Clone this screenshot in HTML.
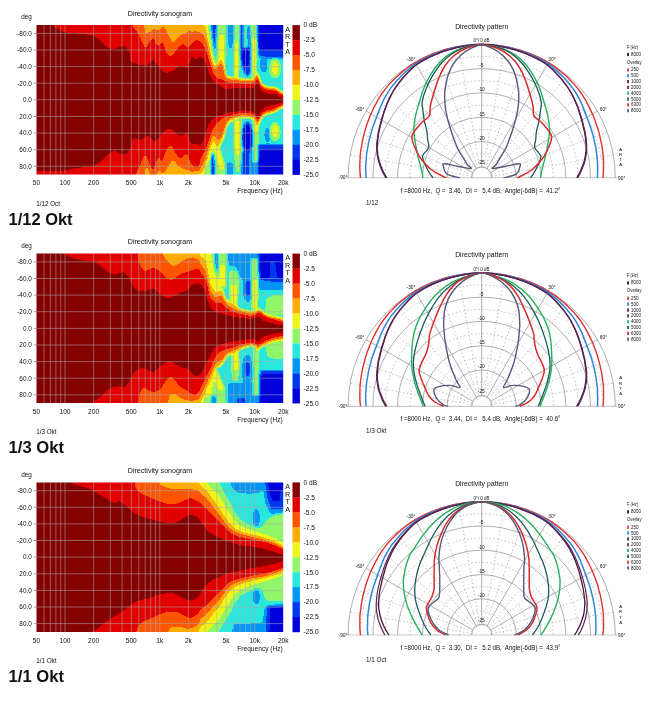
<!DOCTYPE html>
<html><head><meta charset="utf-8"><title>Directivity</title>
<style>html,body{margin:0;padding:0;background:#fff}svg{display:block}text{font-family:'Liberation Sans', sans-serif;fill:#111}</style></head><body>
<svg width="656" height="707" viewBox="0 0 656 707">
<rect width="656" height="707" fill="#fff"/>
<defs>
<filter id="jet" x="0" y="0" width="100%" height="100%" filterUnits="objectBoundingBox" color-interpolation-filters="sRGB"><feGaussianBlur stdDeviation="0.9"/><feComponentTransfer><feFuncR type="discrete" tableValues="0.000 0.000 0.000 0.157 0.569 0.941 1.000 1.000 0.886 0.522"/><feFuncG type="discrete" tableValues="0.000 0.216 0.588 0.910 0.961 0.961 0.675 0.333 0.000 0.000"/><feFuncB type="discrete" tableValues="0.855 0.933 0.961 0.871 0.412 0.098 0.000 0.000 0.000 0.000"/></feComponentTransfer><feGaussianBlur stdDeviation="0.7"/></filter>
<filter id="soft" x="-5%" y="-5%" width="110%" height="110%"><feGaussianBlur stdDeviation="0.35"/></filter>
<clipPath id="cp0"><rect x="36.5" y="25.1" width="246.7" height="149.5"/></clipPath>
<clipPath id="pp0"><rect x="340" y="37.9" width="290" height="140.4"/></clipPath>
<clipPath id="cp1"><rect x="36.5" y="253.6" width="246.7" height="149.5"/></clipPath>
<clipPath id="pp1"><rect x="340" y="266.4" width="290" height="140.4"/></clipPath>
<clipPath id="cp2"><rect x="36.5" y="482.4" width="246.7" height="149.5"/></clipPath>
<clipPath id="pp2"><rect x="340" y="495.2" width="290" height="140.4"/></clipPath>
</defs>
<g id="panel0">
<g clip-path="url(#cp0)"><g filter="url(#jet)">
<rect x="30.5" y="19.1" width="258.7" height="161.5" fill="#595959"/>
<polygon fill="#8c8c8c" points="20,0.5 205,0.5 205,200.5 20,200.5"/>
<polygon fill="#737373" points="205,0.5 208,0.5 208,200.5 205,200.5"/>
<polygon fill="#737373" points="204,23.5 210.6,23.5 213.1,49.7 216.6,67.8 206,54.7"/>
<polygon fill="#8c8c8c" points="202,23.5 207.5,23.5 211.1,49.7 215.1,68.8 206,52.7"/>
<polygon fill="#262626" points="211.3,23.5 216.6,23.5 216.1,39.6 214.9,51.7 213.6,44.6 211.9,34.6"/>
<polygon fill="#737373" points="217.6,23.5 226.4,23.5 226.4,54.7 225.7,72.8 217.1,72.8 216.6,54.7"/>
<polygon fill="#8c8c8c" points="219.6,34.6 224.1,34.6 224.6,54.7 223.6,71.8 218.1,71.8 218.6,54.7"/>
<polygon fill="#404040" points="227,23.5 234,23.5 233.7,39.6 232.2,48.6 229.2,48.6 227.4,39.6"/>
<polygon fill="#737373" points="234,23.5 239.7,23.5 239.7,54.7 238.7,77.8 233.2,77.8 233.7,54.7"/>
<polygon fill="#8c8c8c" points="235.2,42.6 238.7,42.6 238.7,64.7 237.7,77.8 234.2,77.8 234.7,64.7"/>
<polygon fill="#262626" points="240,23.5 243.5,23.5 243.3,49.7 240.2,49.7"/>
<polygon fill="#262626" points="240.2,48.6 250.3,47.6 251.8,59.7 250.8,72.8 247.3,76.8 244.3,72.8 241.2,62.7"/>
<polygon fill="#0d0d0d" points="249.6,57.7 249.2,61.8 248.2,65.2 246.6,67 244.9,67 243.4,65.2 242.3,61.8 242,57.7 242.3,53.6 243.4,50.2 244.9,48.4 246.6,48.4 248.2,50.2 249.2,53.6"/>
<polygon fill="#737373" points="243.8,26.5 247.3,26.5 247.3,47.6 244.3,47.6"/>
<polygon fill="#262626" points="247.5,26.5 250.3,26.5 250.3,48.6 247.8,48.6"/>
<polygon fill="#737373" points="250.3,23.5 256.8,23.5 257.3,54.7 256.8,74.8 252.3,79.8 250.8,72.8 251.8,54.7"/>
<polygon fill="#8c8c8c" points="252.3,37.6 255.8,37.6 256.3,54.7 255.8,71.8 253.3,77.8 252.8,54.7"/>
<polygon fill="#262626" points="256.9,20.5 285,20.5 285,58 270,58 258.8,56.8"/>
<polygon fill="#0d0d0d" points="257.5,20.5 285,20.5 285,49.9 258.8,50.5"/>
<polygon fill="#404040" points="267.5,64.2 267.1,68 266.1,71.1 264.6,72.8 262.9,72.8 261.4,71.1 260.4,68 260,64.2 260.4,60.5 261.4,57.4 262.9,55.7 264.6,55.7 266.1,57.4 267.1,60.5"/>
<polygon fill="#737373" points="281.2,68.6 280.6,73.1 278.9,76.6 276.4,78.6 273.6,78.6 271.1,76.6 269.4,73.1 268.8,68.6 269.4,64.2 271.1,60.6 273.6,58.6 276.4,58.6 278.9,60.6 280.6,64.2"/>
<polygon fill="#8c8c8c" points="278.6,68.6 278.3,71.6 277.4,74 276,75.3 274.5,75.3 273.1,74 272.2,71.6 271.9,68.6 272.2,65.6 273.1,63.2 274.5,61.9 276,61.9 277.4,63.2 278.3,65.6"/>
<polygon fill="#737373" points="203.8,177.5 207.5,152.5 212.5,133.8 216.2,133.8 226.2,170 226.2,177.5"/>
<polygon fill="#8c8c8c" points="206.9,160 212.5,135 216.2,135 225,168.8 220,170 213.8,147.5 210.6,162.5"/>
<polygon fill="#262626" points="210.6,177.5 211,157.5 212.5,151.2 214.4,157.5 215.2,177.5"/>
<polygon fill="#404040" points="226,177.5 226.5,162.5 232.5,162.5 233.1,177.5"/>
<polygon fill="#737373" points="233.1,120 241.9,119.4 242.5,148.8 240,172.5 236.2,172.5 233.1,148.8"/>
<polygon fill="#8c8c8c" points="234.4,121.2 240.6,120.6 241.2,142.5 240,155 236.2,155 234.4,142.5"/>
<polygon fill="#404040" points="241.9,151.2 256.9,151.2 256.9,177.5 241.9,177.5"/>
<polygon fill="#262626" points="241.9,152.5 249.4,152.5 249.4,177.5 241.9,177.5"/>
<polygon fill="#262626" points="253.8,137.5 253.1,144.6 251.4,150.2 248.9,153.3 246.1,153.3 243.6,150.2 241.9,144.6 241.2,137.5 241.9,130.4 243.6,124.8 246.1,121.7 248.9,121.7 251.4,124.8 253.1,130.4"/>
<polygon fill="#0d0d0d" points="251.6,137.5 251.2,143.2 250.1,147.8 248.4,150.3 246.6,150.3 244.9,147.8 243.8,143.2 243.4,137.5 243.8,131.8 244.9,127.2 246.6,124.7 248.4,124.7 250.1,127.2 251.2,131.8"/>
<polygon fill="#737373" points="252.5,117.5 258.8,117.5 258.8,162.5 253.1,162.5"/>
<polygon fill="#8c8c8c" points="253.5,117.5 258.1,117.5 258.1,132.5 253.8,132.5"/>
<polygon fill="#262626" points="258.1,144.4 285,144.4 285,177.5 257.8,177.5"/>
<polygon fill="#0d0d0d" points="258.8,148.8 285,148.8 285,177.5 258.5,177.5"/>
<polygon fill="#404040" points="270.6,135 270.3,138.3 269.4,140.9 268.2,142.3 266.8,142.3 265.6,140.9 264.7,138.3 264.4,135 264.7,131.7 265.6,129.1 266.8,127.7 268.2,127.7 269.4,129.1 270.3,131.7"/>
<polygon fill="#737373" points="280.6,131.9 280.1,136.2 278.5,139.7 276.3,141.6 273.7,141.6 271.5,139.7 269.9,136.2 269.4,131.9 269.9,127.5 271.5,124.1 273.7,122.1 276.3,122.1 278.5,124.1 280.1,127.5"/>
<polygon fill="#8c8c8c" points="278.2,131.2 278,134.2 277.1,136.6 275.9,138 274.6,138 273.4,136.6 272.5,134.2 272.2,131.2 272.5,128.3 273.4,125.9 274.6,124.5 275.9,124.5 277.1,125.9 278,128.3"/>
<polygon fill="#a6a6a6" points="20,99.8 30,10.5 198,10.5 200,20.5 202.5,23.6 205.4,28.4 207.5,38.1 209.8,47.5 211.9,57.2 213.8,64.4 215.6,64.6 217.8,62.6 220,60.1 221.9,59.7 224.4,66.2 225.6,74 228.8,77.1 232.5,77.5 237.5,78 242.5,78.8 247.5,78.8 252.5,79.2 255,76.5 256.9,71.4 259.4,77.3 261.2,83.2 265,86.1 270,87.2 275,87.5 278.1,89 280.6,91.2 283.2,92.5 290,99.8 283.2,107.5 280,108.8 276.2,111.2 272.5,113.1 266.2,114.4 261.9,117.3 259.4,122.6 257.2,127.9 255.6,120.2 252.5,118.4 243.8,117.8 237.5,118.4 230,121.5 226.2,128 224.4,135.5 221.8,142.5 220,145.6 217.8,147.6 215.6,144.6 213.8,140 211.9,144 209.8,149.8 207.5,158.6 205.4,167.9 202.5,171.9 198,175.5 196,190.5 30,190.5"/>
<polygon fill="#bfbfbf" points="20,99.8 30,10.5 143.5,10.5 144,20.5 144.9,34.2 147.4,33 149.2,30.5 150.8,33 152.4,29.9 154.2,26.8 156.1,31.8 158,28 159.9,31.1 161.8,27.4 163.6,26.1 165.5,29.2 168,34.2 170.5,39.2 173.6,43.6 176.1,39.2 179.2,36.1 183,34.2 186.8,32.4 189.9,30.5 192.4,33 194.9,29.9 198,32.4 199.5,31.5 200,31.9 202.5,34.2 205.4,37.4 207.5,45.7 209.8,55.6 211.9,63.6 213.8,69.4 215.6,69.2 217.8,67 220,63.5 221.9,63.3 224.4,70.2 225.6,77.1 228.8,79.6 232.5,79.6 237.5,80.2 242.5,80.8 247.5,80.8 252.5,81.5 255,79 256.9,74.4 259.4,79.5 261.2,85.3 265,87.8 270,88.8 275,88.9 278.1,90.5 280.6,92.8 283.2,94 290,99.8 283.2,106 280,107.2 276.2,109.5 272.5,111.2 266.2,112.5 261.9,115.4 259.4,120.4 257.2,124.9 255.6,117.8 252.5,115.9 243.8,115.3 237.5,115.9 230,118.4 226.2,123 224.4,129.9 221.8,136.9 220,139.5 217.8,140.3 215.6,137.4 213.8,134.7 211.9,138.4 209.8,143.7 207.5,151.6 205.4,160 202.5,164.4 200,168.8 199.2,172.5 195.5,170 193,172.5 188,170 183,168.8 179.2,166.2 175.5,162.5 173,159.4 170.5,162.5 167.4,167.5 164.9,172.5 161.8,173.8 159.9,170 158,171.2 155.5,178.8 152.4,177.5 149.2,172.5 147.4,166.2 145.5,167.5 144.5,180 144,190.5 30,190.5"/>
<polygon fill="#d9d9d9" points="20,99.8 30,10.5 131,10.5 131.8,20.5 133,28 135.5,30.5 138,33 139.9,36.8 141.8,41.8 144.9,48 147.4,47.4 149.2,41.8 151.8,39.2 153.6,38 155.5,43 158,46.8 160.5,44.2 162.4,41.1 164.2,45.5 166.1,53 169.2,55.5 171.8,56.8 174.2,53.6 176.8,49.2 180.5,45.5 184.2,43.6 186.1,46.8 188,48.6 189.9,45.5 193,42.4 196.8,39.9 199.2,40.8 200,41.8 202.5,44.5 205.4,48.3 207.5,55.2 209.8,62.7 211.9,69.5 213.8,74.8 217.8,78.7 221.9,79.2 225.6,81.5 228.8,83.3 232.5,83.3 237.5,83.3 242.5,83.7 247.5,83.7 252.5,84 255,82.1 256.9,77.4 259.4,81.6 261.2,87.3 265,89.2 270,90.2 275,90.2 278.1,92 280.6,94.2 283.2,95.5 290,99.8 283.2,104.5 280,105.8 276.2,107.8 272.5,109.4 266.2,110.6 261.9,113.4 259.4,118.2 257.2,121.9 255.6,115.3 252.5,113.4 243.8,112.8 237.5,113.4 230,115.3 225,117.2 221.8,118.6 217.8,122.3 213.8,127.6 211.9,131.6 209.8,136.6 207.5,143.4 205.4,150.1 202.5,155 200,160 199.2,167.2 198,166.2 194.2,167.5 190.5,162.5 187.4,153.8 184.2,155 180.5,158.8 176.8,155 174.2,150 171.8,145.6 169.2,146.2 166.1,150 163,160 161.1,162.5 159.2,156.2 156.8,160 153.6,170 151.1,167.5 148,160 145.5,153.8 143,157.5 139.9,165 136.8,171.2 134.9,180 134,190.5 30,190.5"/>
<polygon fill="#f2f2f2" points="20,99.8 30,10.5 52,10.5 53.5,25.5 54.8,28 59.8,28.8 61.6,32 73.5,33 83.5,34 93.5,35.2 97.2,38 101,41.8 106,46.1 111,49 116,48.8 118,47.4 123.6,45.5 129.2,49.9 130.5,61.8 138,64.2 146.8,66.1 149.9,63 153,58 155.5,63 159.2,67.4 161.1,68 164.2,73 168,72.4 174.2,70.5 178,66.1 180.5,64.9 185.5,66.8 188,69.2 189.9,61.8 192.4,54.2 194.9,60.5 198,58 200,55.6 202.5,58 205.4,62.2 207.5,68.2 209.8,74.4 211.9,79.3 213.8,82.3 217.8,84.2 221.9,86.8 225,89.6 228.8,89 232.5,88.3 237.5,88.1 242.5,88.3 247.5,88.1 252.5,88.3 255,87.1 256.9,80.7 258.8,84 260.6,91 265,92.4 270,94.2 275,94 278.1,95.5 280.6,97.2 283.2,98.5 290,99.8 283.2,101.5 280.6,102.5 278.1,103.8 275,104.8 270,105.6 265,107.5 261.2,110.8 259.4,115.4 257.2,118.1 255,112.8 250,110.9 242.5,110.3 237.5,111.5 230,112.2 225,114 217.5,115.7 212.5,118.7 208.8,124.6 205.6,133.7 202.5,142.5 200,147.5 198.6,145.6 195.5,142.5 193,145 190.5,142.5 188,133.8 185.5,132.5 181.8,136.2 178,135 174.2,131.2 170.5,128.8 165.5,130 161.8,133.8 158,138.8 154.2,142.5 151.1,138.8 148,135.6 144.2,137.5 140.5,140.6 135.5,138.1 131.8,140 130.5,147.5 128,152.5 123,155 118,152.5 117.5,152.3 114.4,150.8 108.1,154.6 100.6,162.1 93.1,166.6 75.5,167.9 62.9,170.7 35.2,171.4"/>
</g>
<path d="M44 25.1V174.6M50.4 25.1V174.6M55.9 25.1V174.6M60.7 25.1V174.6M65 25.1V174.6M93.6 25.1V174.6M110.3 25.1V174.6M122.1 25.1V174.6M131.3 25.1V174.6M138.8 25.1V174.6M145.2 25.1V174.6M150.7 25.1V174.6M155.5 25.1V174.6M159.8 25.1V174.6M188.4 25.1V174.6M205.1 25.1V174.6M216.9 25.1V174.6M226.1 25.1V174.6M233.6 25.1V174.6M240 25.1V174.6M245.5 25.1V174.6M250.3 25.1V174.6M254.7 25.1V174.6M36.5 33.4H283.2M36.5 50H283.2M36.5 66.6H283.2M36.5 83.2H283.2M36.5 99.8H283.2M36.5 116.5H283.2M36.5 133.1H283.2M36.5 149.7H283.2M36.5 166.3H283.2" stroke="#acacac" stroke-opacity="0.68" stroke-width="0.8" fill="none"/>
</g>
<path d="M34 33.4H36.5M34 50H36.5M34 66.6H36.5M34 83.2H36.5M34 99.8H36.5M34 116.5H36.5M34 133.1H36.5M34 149.7H36.5M34 166.3H36.5" stroke="#555" stroke-width="0.6" fill="none"/>
<text x="160" y="15.9" font-size="7.3" text-anchor="middle" textLength="64.5" lengthAdjust="spacingAndGlyphs">Directivity sonogram</text>
<text x="21.2" y="19.2" font-size="6.6" textLength="10.6" lengthAdjust="spacingAndGlyphs">deg</text>
<text x="31.8" y="35.7" font-size="6.4" text-anchor="end">-80.0</text>
<text x="31.8" y="52.3" font-size="6.4" text-anchor="end">-60.0</text>
<text x="31.8" y="68.9" font-size="6.4" text-anchor="end">-40.0</text>
<text x="31.8" y="85.5" font-size="6.4" text-anchor="end">-20.0</text>
<text x="31.8" y="102.1" font-size="6.4" text-anchor="end">0.0</text>
<text x="31.8" y="118.8" font-size="6.4" text-anchor="end">20.0</text>
<text x="31.8" y="135.4" font-size="6.4" text-anchor="end">40.0</text>
<text x="31.8" y="152" font-size="6.4" text-anchor="end">60.0</text>
<text x="31.8" y="168.6" font-size="6.4" text-anchor="end">80.0</text>
<text x="36.5" y="185.3" font-size="6.6" text-anchor="middle">50</text>
<text x="65" y="185.3" font-size="6.6" text-anchor="middle">100</text>
<text x="93.6" y="185.3" font-size="6.6" text-anchor="middle">200</text>
<text x="131.3" y="185.3" font-size="6.6" text-anchor="middle">500</text>
<text x="159.8" y="185.3" font-size="6.6" text-anchor="middle">1k</text>
<text x="188.4" y="185.3" font-size="6.6" text-anchor="middle">2k</text>
<text x="226.1" y="185.3" font-size="6.6" text-anchor="middle">5k</text>
<text x="254.7" y="185.3" font-size="6.6" text-anchor="middle">10k</text>
<text x="283.2" y="185.3" font-size="6.6" text-anchor="middle">20k</text>
<text x="282.8" y="193.4" font-size="6.6" text-anchor="end" textLength="45.5" lengthAdjust="spacingAndGlyphs">Frequency (Hz)</text>
<text x="287.6" y="31.6" font-size="7.2" text-anchor="middle">A</text>
<text x="287.6" y="39.2" font-size="7.2" text-anchor="middle">R</text>
<text x="287.6" y="46.8" font-size="7.2" text-anchor="middle">T</text>
<text x="287.6" y="54.4" font-size="7.2" text-anchor="middle">A</text>
<rect x="292.5" y="25.1" width="7.4" height="15.2" fill="rgb(133,0,0)"/>
<text x="303.6" y="27.4" font-size="6.6">0 dB</text>
<rect x="292.5" y="40.1" width="7.4" height="15.2" fill="rgb(226,0,0)"/>
<text x="303.6" y="42.4" font-size="6.6">-2.5</text>
<rect x="292.5" y="55" width="7.4" height="15.2" fill="rgb(255,85,0)"/>
<text x="303.6" y="57.3" font-size="6.6">-5.0</text>
<rect x="292.5" y="70" width="7.4" height="15.2" fill="rgb(255,172,0)"/>
<text x="303.6" y="72.3" font-size="6.6">-7.5</text>
<rect x="292.5" y="84.9" width="7.4" height="15.2" fill="rgb(240,245,25)"/>
<text x="303.6" y="87.2" font-size="6.6">-10.0</text>
<rect x="292.5" y="99.9" width="7.4" height="15.2" fill="rgb(145,245,105)"/>
<text x="303.6" y="102.2" font-size="6.6">-12.5</text>
<rect x="292.5" y="114.9" width="7.4" height="15.2" fill="rgb(40,232,222)"/>
<text x="303.6" y="117.2" font-size="6.6">-15.0</text>
<rect x="292.5" y="129.8" width="7.4" height="15.2" fill="rgb(0,150,245)"/>
<text x="303.6" y="132.1" font-size="6.6">-17.5</text>
<rect x="292.5" y="144.8" width="7.4" height="15.2" fill="rgb(0,55,238)"/>
<text x="303.6" y="147.1" font-size="6.6">-20.0</text>
<rect x="292.5" y="159.7" width="7.4" height="15.2" fill="rgb(0,0,218)"/>
<text x="303.6" y="162" font-size="6.6">-22.5</text>
<text x="303.6" y="177" font-size="6.6">-25.0</text>
<text x="36.2" y="205.9" font-size="6.3">1/12 Oct</text>
<text x="8.6" y="224.6" font-size="15.6" font-weight="bold" textLength="64" lengthAdjust="spacingAndGlyphs">1/12 Okt</text>
<g clip-path="url(#pp0)">
<path d="M360.5 177.9A121.2 121.4 0 0 1 602.9 177.9M385.2 177.9A96.5 97.1 0 0 1 578.2 177.9M410 177.9A71.7 72.8 0 0 1 553.4 177.9M434.7 177.9A47 48.5 0 0 1 528.7 177.9M459.5 177.9A22.2 24.2 0 0 1 503.9 177.9M471.9 176.2L350.1 154.7M472.3 174.5L356.2 132.2M474 171.5L379.4 92M475.3 170.2L395.8 75.6M478.3 168.5L436 52.4M480 168.1L458.5 46.3M483.4 168.1L504.9 46.3M485.1 168.5L527.4 52.4M488.1 170.2L567.6 75.6M489.4 171.5L584 92M491.1 174.5L607.2 132.2M491.5 176.2L613.3 154.7" stroke="#9a9aa8" stroke-width="0.6" stroke-dasharray="1.6 2.2" fill="none"/>
<path d="M348.1 177.9A133.6 133.6 0 0 1 615.3 177.9M372.9 177.9A108.8 109.3 0 0 1 590.5 177.9M397.6 177.9A84.1 85 0 0 1 565.8 177.9M422.4 177.9A59.3 60.7 0 0 1 541 177.9M447.1 177.9A34.6 36.4 0 0 1 516.3 177.9M471.7 177.9A10 11 0 0 1 491.7 177.9M473 172.9L366 111.1M476.7 169.2L414.9 62.2M481.7 167.9L481.7 44.3M486.7 169.2L548.5 62.2M490.4 172.9L597.4 111.1M346.1 177.9H617.3" stroke="#8c8c8c" stroke-width="0.7" fill="none"/>
<path d="M360.5 177.9C360.4 176.8 360.1 173.7 359.9 171.5C359.8 169.4 359.8 167.2 359.8 165.1C359.8 162.9 360 160.8 360.1 158.6C360.2 156.5 360.3 154.3 360.5 152.1C360.8 150 361.3 147.9 361.7 145.7C362 143.6 362.3 141.4 362.8 139.3C363.2 137.1 363.9 135 364.4 132.9C365 130.8 365.6 128.6 366.2 126.5C366.9 124.4 367.6 122.3 368.4 120.2C369.2 118.1 370.1 116.1 371 114C371.9 111.9 372.8 109.8 373.8 107.8C374.8 105.8 375.9 103.8 377 101.8C378.1 99.9 379.2 97.8 380.4 95.9C381.6 94 383 92.1 384.4 90.3C385.7 88.4 387.2 86.6 388.7 84.9C390.2 83.1 391.8 81.5 393.4 79.9C395.1 78.2 396.8 76.7 398.5 75.2C400.2 73.6 402 72.1 403.8 70.6C405.6 69.2 407.5 67.8 409.3 66.5C411.2 65.1 413.1 63.8 415.1 62.6C417.1 61.4 419.2 60.3 421.2 59.2C423.3 58.1 425.4 57.1 427.5 56.1C429.6 55.2 431.8 54.3 433.9 53.4C436.1 52.6 438.3 51.8 440.5 51.1C442.7 50.3 444.9 49.6 447.2 49C449.4 48.4 451.7 47.9 454 47.4C456.2 46.9 458.5 46.4 460.8 46.1C463.1 45.7 465.4 45.4 467.7 45.1C470.1 44.9 472.4 44.7 474.7 44.5C477 44.4 479.4 44.3 481.7 44.3C484 44.3 486.4 44.4 488.7 44.5C491 44.7 493.3 44.8 495.7 45.1C498 45.4 500.3 45.7 502.6 46.1C504.9 46.4 507.2 46.9 509.4 47.4C511.7 47.9 514 48.4 516.2 49.1C518.5 49.7 520.7 50.3 522.9 51.1C525.1 51.8 527.3 52.6 529.5 53.4C531.6 54.3 533.8 55.2 535.9 56.2C538 57.1 540.1 58.1 542.2 59.2C544.3 60.2 546.3 61.4 548.3 62.6C550.2 63.8 552.2 65.1 554.1 66.4C556 67.8 557.8 69.2 559.6 70.7C561.4 72.1 563.2 73.6 564.9 75.1C566.7 76.7 568.3 78.2 570 79.9C571.6 81.5 573.2 83.2 574.7 84.9C576.2 86.6 577.7 88.4 579.1 90.2C580.5 92 581.7 94 582.9 95.9C584.1 97.9 585.4 99.8 586.5 101.8C587.6 103.8 588.5 105.8 589.5 107.9C590.5 109.9 591.5 111.9 592.4 114C593.3 116 594.2 118.1 594.9 120.2C595.7 122.3 596.4 124.4 597.1 126.5C597.8 128.6 598.5 130.7 599.1 132.8C599.6 135 600 137.2 600.5 139.3C601 141.4 601.5 143.5 601.9 145.7C602.3 147.8 602.5 150 602.7 152.2C603 154.3 603.3 156.5 603.4 158.6C603.6 160.8 603.6 162.9 603.6 165.1C603.6 167.2 603.5 169.4 603.4 171.5C603.3 173.7 603.1 176.8 603 177.9" fill="none" stroke="#e03030" stroke-width="1.4" stroke-linejoin="round"/>
<path d="M366.1 177.9C366.1 176.9 365.8 173.9 365.8 171.8C365.7 169.8 365.7 167.8 365.8 165.7C365.8 163.7 366 161.6 366.2 159.6C366.3 157.6 366.4 155.5 366.7 153.5C366.9 151.4 367.4 149.4 367.8 147.4C368.2 145.3 368.4 143.3 368.9 141.2C369.3 139.2 369.9 137.2 370.5 135.2C371 133.2 371.6 131.1 372.2 129.1C372.8 127.1 373.5 125.2 374.3 123.2C375 121.2 375.8 119.2 376.6 117.2C377.3 115.2 378 113.1 378.8 111.1C379.6 109 380.5 107 381.4 105C382.3 103 383.1 100.9 384.1 98.9C385.1 96.9 386.3 95 387.5 93.1C388.7 91.1 389.9 89.3 391.2 87.4C392.6 85.6 394 83.9 395.5 82.2C397 80.5 398.6 78.8 400.1 77.2C401.7 75.5 403.3 73.9 405 72.3C406.7 70.8 408.4 69.3 410.2 67.8C412 66.4 413.8 64.9 415.7 63.6C417.6 62.3 419.6 61.2 421.7 60.1C423.7 59 425.8 57.9 427.8 56.9C429.9 55.9 432.1 55 434.2 54.1C436.3 53.3 438.5 52.5 440.7 51.7C442.9 50.9 445.1 50.2 447.3 49.6C449.5 48.9 451.8 48.3 454 47.8C456.3 47.3 458.6 46.8 460.9 46.4C463.2 46 465.5 45.6 467.8 45.3C470.1 45 472.4 44.8 474.7 44.6C477 44.5 479.4 44.4 481.7 44.4C484 44.4 486.4 44.5 488.7 44.6C491 44.8 493.3 45 495.6 45.3C497.9 45.6 500.2 46 502.5 46.4C504.8 46.8 507.1 47.3 509.4 47.8C511.6 48.3 513.9 48.9 516.1 49.6C518.3 50.2 520.5 50.9 522.7 51.7C524.9 52.4 527.1 53.3 529.2 54.1C531.3 55 533.5 56 535.6 56.9C537.6 57.9 539.7 58.9 541.8 60C543.8 61.1 545.7 62.4 547.7 63.7C549.6 65 551.4 66.3 553.2 67.8C555 69.2 556.7 70.8 558.4 72.4C560 73.9 561.7 75.5 563.3 77.1C564.9 78.8 566.4 80.5 567.9 82.2C569.4 83.9 570.8 85.7 572.1 87.5C573.5 89.3 574.8 91.1 576 93C577.2 94.9 578.2 97 579.2 98.9C580.2 100.9 581.2 102.9 582.1 104.9C583 107 583.7 109.1 584.5 111.1C585.3 113.2 586.1 115.2 586.9 117.2C587.6 119.2 588.4 121.2 589.1 123.2C589.8 125.2 590.5 127.2 591.2 129.2C591.8 131.2 592.5 133.1 593 135.2C593.6 137.2 593.9 139.3 594.4 141.3C594.8 143.3 595.4 145.3 595.8 147.3C596.1 149.4 596.3 151.4 596.6 153.5C596.8 155.5 597.2 157.5 597.3 159.6C597.5 161.6 597.6 163.7 597.6 165.7C597.7 167.8 597.6 169.8 597.6 171.8C597.6 173.9 597.4 176.9 597.4 177.9" fill="none" stroke="#2f86d8" stroke-width="1.5" stroke-linejoin="round"/>
<path d="M386.8 177.9C386.3 177 384.7 174.5 383.8 172.8C382.9 171 382.2 169.2 381.5 167.4C380.7 165.5 380 163.6 379.4 161.7C378.8 159.8 378.4 157.8 378 155.9C377.7 153.9 377.5 151.9 377.4 150C377.3 148 377.2 146 377.3 144C377.4 142 377.7 140.1 378 138.1C378.3 136.1 378.5 134.1 378.8 132.1C379.2 130.1 379.8 128.2 380.2 126.2C380.7 124.2 381.2 122.2 381.8 120.2C382.3 118.2 382.9 116.2 383.5 114.1C384.1 112.1 384.8 110.1 385.6 108.1C386.3 106 387 104 387.9 102C388.8 99.9 389.8 98 390.8 96C391.8 94.1 392.8 92 393.9 90.1C395.1 88.2 396.4 86.4 397.7 84.6C399 82.8 400.4 81 401.9 79.3C403.3 77.6 404.8 75.8 406.3 74.2C407.9 72.5 409.5 70.8 411.2 69.3C412.8 67.7 414.5 66.1 416.4 64.8C418.2 63.4 420.2 62.2 422.2 61.1C424.1 59.9 426.2 58.8 428.2 57.8C430.3 56.8 432.4 55.9 434.5 55C436.6 54.1 438.8 53.2 440.9 52.4C443.1 51.6 445.3 50.8 447.5 50.2C449.7 49.5 451.9 48.9 454.2 48.3C456.4 47.7 458.7 47.2 460.9 46.7C463.2 46.3 465.5 45.9 467.8 45.6C470.1 45.2 472.4 44.9 474.7 44.8C477 44.6 479.4 44.4 481.7 44.4C484 44.4 486.4 44.6 488.7 44.8C491 44.9 493.3 45.2 495.6 45.6C497.9 45.9 500.2 46.3 502.5 46.8C504.7 47.2 507 47.7 509.3 48.3C511.5 48.8 513.7 49.5 515.9 50.2C518.1 50.9 520.3 51.6 522.5 52.4C524.6 53.2 526.8 54.1 528.9 55C531 55.9 533.1 56.8 535.2 57.8C537.2 58.8 539.3 59.9 541.2 61C543.2 62.2 545.2 63.4 547 64.8C548.8 66.2 550.6 67.7 552.3 69.2C553.9 70.8 555.5 72.5 557 74.2C558.6 75.9 560.1 77.5 561.6 79.3C563 81 564.4 82.8 565.7 84.6C567 86.5 568.3 88.3 569.5 90.1C570.6 92 571.7 94 572.7 96C573.7 98 574.6 100 575.4 102C576.3 104 577.2 106 577.9 108C578.6 110 579.2 112.1 579.8 114.2C580.5 116.2 581.1 118.2 581.7 120.2C582.2 122.2 582.7 124.2 583.1 126.2C583.6 128.2 584.1 130.1 584.5 132.1C584.9 134.1 585.2 136.1 585.5 138.1C585.7 140.1 585.9 142 586 144C586.1 146 586.2 147.9 586.1 149.9C586 151.9 585.6 153.9 585.3 155.9C584.9 157.8 584.6 159.8 584.1 161.7C583.5 163.6 582.7 165.5 581.9 167.4C581.2 169.2 580.5 171 579.6 172.8C578.7 174.5 577.2 177 576.7 177.9" fill="none" stroke="#4a1540" stroke-width="1.3" stroke-linejoin="round"/>
<path d="M385.8 177.9C385.4 177 383.8 174.5 382.9 172.7C382 171 381.3 169.1 380.6 167.3C379.9 165.4 379.2 163.5 378.7 161.6C378.1 159.7 377.7 157.7 377.3 155.7C377 153.8 376.9 151.8 376.8 149.8C376.7 147.8 376.6 145.8 376.7 143.8C376.8 141.8 377.2 139.9 377.5 137.9C377.8 135.9 378 133.9 378.4 131.9C378.7 129.9 379.3 128 379.8 126C380.3 124 380.8 122 381.4 120C381.9 118 382.5 115.9 383.2 113.9C383.8 111.9 384.5 109.9 385.3 107.8C386 105.8 386.8 103.8 387.7 101.7C388.5 99.7 389.5 97.8 390.6 95.8C391.6 93.9 392.6 91.9 393.8 90C394.9 88.1 396.3 86.3 397.6 84.5C398.9 82.7 400.3 80.9 401.7 79.2C403.2 77.4 404.7 75.7 406.3 74.1C407.8 72.4 409.4 70.8 411.1 69.2C412.8 67.6 414.5 66.1 416.3 64.7C418.2 63.3 420.2 62.2 422.1 61C424.1 59.9 426.2 58.8 428.2 57.8C430.3 56.8 432.4 55.8 434.5 54.9C436.6 54 438.7 53.1 440.9 52.3C443.1 51.5 445.3 50.8 447.5 50.1C449.7 49.5 451.9 48.8 454.1 48.3C456.4 47.7 458.6 47.2 460.9 46.7C463.2 46.3 465.5 45.9 467.8 45.6C470.1 45.2 472.4 44.9 474.7 44.7C477 44.6 479.4 44.4 481.7 44.4C484 44.4 486.4 44.6 488.7 44.7C491 44.9 493.3 45.2 495.6 45.6C497.9 45.9 500.2 46.3 502.5 46.7C504.7 47.2 507 47.7 509.3 48.2C511.5 48.8 513.7 49.5 515.9 50.1C518.1 50.8 520.3 51.5 522.5 52.3C524.7 53.1 526.8 54 528.9 54.9C531 55.8 533.1 56.8 535.2 57.8C537.2 58.8 539.3 59.8 541.3 61C543.2 62.1 545.2 63.4 547 64.7C548.9 66.1 550.6 67.6 552.3 69.1C554 70.7 555.6 72.4 557.1 74.1C558.7 75.8 560.2 77.4 561.7 79.1C563.1 80.9 564.5 82.7 565.8 84.5C567.1 86.3 568.4 88.1 569.6 90C570.8 91.9 571.9 93.8 572.9 95.8C573.9 97.8 574.8 99.8 575.7 101.8C576.6 103.8 577.4 105.8 578.2 107.8C578.9 109.8 579.5 111.9 580.2 113.9C580.8 116 581.5 117.9 582.1 119.9C582.6 122 583.1 124 583.6 126C584.1 128 584.6 129.9 585 131.9C585.4 133.9 585.7 135.9 586 137.9C586.2 139.9 586.5 141.8 586.6 143.8C586.7 145.8 586.8 147.8 586.7 149.8C586.6 151.7 586.3 153.8 586 155.7C585.6 157.7 585.3 159.6 584.8 161.6C584.3 163.5 583.5 165.4 582.7 167.3C582 169.1 581.3 171 580.5 172.7C579.6 174.5 578.1 177 577.6 177.9" fill="none" stroke="#5b2352" stroke-width="1.2" stroke-linejoin="round"/>
<path d="M422.9 177.9C422.8 176.8 422.4 174 421.8 171.2C421.1 168.3 420.1 164.4 419.2 161.1C418.4 157.7 417.4 154.3 416.8 151C416.1 147.6 415.5 144 415.1 141C414.6 137.9 414.1 135.4 413.9 132.6C413.8 129.8 413.9 127.2 414.2 124.2C414.6 121.1 415.2 117.5 415.9 114.1C416.7 110.6 417.7 107.9 418.9 103.7C420.2 99.4 421.8 93.2 423.6 88.7C425.4 84.1 427.2 80.3 429.8 76.1C432.2 71.9 435.4 67 438.6 63.5C441.7 59.9 444.9 57.2 448.6 54.7C452.4 52.1 455.8 50 461.2 48.3C466.7 46.7 474.6 44.7 481.4 44.7C488.3 44.7 496.6 46.7 502.1 48.3C507.7 50 511 52.1 514.8 54.7C518.5 57.2 521.7 59.9 524.8 63.5C528 67 531.2 71.9 533.7 76.1C536.2 80.3 538 84.1 539.8 88.7C541.6 93.2 543.2 99.4 544.5 103.7C545.7 107.9 546.7 110.6 547.5 114.1C548.2 117.5 548.8 121.1 549.2 124.2C549.5 127.2 549.6 129.8 549.5 132.6C549.3 135.4 548.8 137.9 548.3 141C547.9 144 547.4 147.6 546.7 151C546 154.3 545 157.7 544.2 161.1C543.3 164.4 542.3 168.3 541.7 171.2C541 174 540.7 176.8 540.5 177.9" fill="none" stroke="#27b060" stroke-width="1.4" stroke-linejoin="round"/>
<path d="M433.1 177.9C432.4 177 430.7 175 429.3 172.8C428 170.5 426.3 167.2 425.1 164.5C424 161.7 422.1 158.9 422.6 156.1C423.2 153.2 427.7 150.5 428.6 147.7C429.4 144.8 427.9 142.1 427.6 139.2C427.4 136.4 427.4 133.9 426.8 130.8C426.3 127.8 425 124.1 424.3 120.8C423.7 117.4 423.3 113.9 422.9 110.8C422.6 107.6 421.7 105.3 422.2 101.7C422.8 98 424.4 92.9 426.1 88.7C427.7 84.4 429.8 80.3 432.3 76.1C434.9 71.9 438.1 67 441.1 63.5C444.2 59.9 447.1 57.2 450.6 54.7C454.2 52.1 457.3 50 462.4 48.3C467.6 46.7 475 44.7 481.4 44.7C487.9 44.7 495.7 46.7 500.9 48.3C506.2 50 509.2 52.1 512.8 54.7C516.3 57.2 519.2 59.9 522.2 63.5C525.3 67 528.5 71.9 531 76.1C533.6 80.3 535.7 84.4 537.3 88.7C539 92.9 540.6 98 541.2 101.7C541.7 105.3 540.8 107.6 540.5 110.8C540.1 113.9 539.7 117.4 539 120.8C538.4 124.1 537.1 127.8 536.5 130.8C536 133.9 536 136.4 535.8 139.2C535.5 142.1 534 144.8 534.8 147.7C535.7 150.5 540.2 153.2 540.8 156.1C541.3 158.9 539.4 161.7 538.2 164.5C537.1 167.2 535.4 170.5 534 172.8C532.7 175 531 177 530.3 177.9" fill="none" stroke="#1e5a55" stroke-width="1.3" stroke-linejoin="round"/>
<path d="M446.1 177.9C445 177.3 442 175.9 439.4 174.5C436.9 173 433.6 171.4 431.1 169.5C428.5 167.5 426.3 165 424.3 162.8C422.4 160.5 420.9 158.9 419.2 156.1C417.6 153.2 415.5 149.2 414.2 146C413 142.7 411.5 139.6 411.8 136.8C412 133.9 414.1 131.7 415.9 129.2C417.8 126.6 420.4 123.9 422.6 121.7C424.9 119.5 428.2 118.1 429.4 116C430.7 113.8 429.9 110.7 430.1 108.7C430.4 106.6 430.3 106.2 430.8 103.7C431.4 101.2 432.3 97.8 433.6 93.7C434.8 89.5 436.7 83.2 438.6 78.6C440.4 73.9 442.3 69.7 444.8 66C447.4 62.2 450.1 58.9 453.6 56C457.2 53 461.6 50.2 466.2 48.3C470.9 46.5 476.3 44.7 481.4 44.7C486.6 44.7 492.4 46.5 497.1 48.3C501.9 50.2 506.2 53 509.8 56C513.3 58.9 516 62.2 518.5 66C521.1 69.7 523 73.9 524.8 78.6C526.7 83.2 528.6 89.5 529.8 93.7C531.1 97.8 532 101.2 532.5 103.7C533.1 106.2 533 106.6 533.2 108.7C533.5 110.7 532.7 113.8 534 116C535.2 118.1 538.5 119.5 540.8 121.7C543 123.9 545.6 126.6 547.5 129.2C549.3 131.7 551.4 133.9 551.7 136.8C551.9 139.6 550.4 142.7 549.2 146C547.9 149.2 545.8 153.2 544.2 156.1C542.5 158.9 541 160.5 539 162.8C537.1 165 534.9 167.5 532.3 169.5C529.8 171.4 526.5 173 524 174.5C521.4 175.9 518.4 177.3 517.2 177.9" fill="none" stroke="#d82a2a" stroke-width="1.5" stroke-linejoin="round"/>
<path d="M459.8 177.9C457.7 177.2 449.4 175.6 446.7 173.8C444 171.9 444 168.6 443.6 166.9C443.1 165.2 441.9 163.9 444.2 163.8C446.5 163.6 453 165.4 457.4 166.2C461.9 166.9 469.3 168.7 470.9 168.5C472.6 168.2 468.6 166.3 467.3 164.5C466.1 162.7 464.7 160.2 463.2 157.7C461.7 155.1 459.7 152.4 458.1 149.3C456.6 146.3 455.2 142.6 453.9 139.2C452.7 135.9 451.7 132.5 450.6 129.2C449.6 125.8 448.5 122.5 447.6 119.2C446.8 115.8 446 112.1 445.6 109.1C445.1 106 444.9 103.7 444.8 100.7C444.6 97.6 444.4 94.8 444.9 90.7C445.5 86.5 446.5 80.2 447.9 75.7C449.4 71.2 451.2 67.2 453.4 63.7C455.7 60.2 458.4 57.2 461.4 54.7C464.4 52.1 468.1 49.8 471.4 48.2C474.8 46.5 478 44.7 481.4 44.7C484.9 44.7 488.5 46.5 491.9 48.2C495.4 49.8 498.9 52.1 501.9 54.7C504.9 57.2 507.7 60.2 509.9 63.7C512.2 67.2 514 71.2 515.5 75.7C516.9 80.2 517.9 86.5 518.5 90.7C519 94.8 518.8 97.6 518.7 100.7C518.6 103.7 518.3 106 517.8 109.1C517.4 112.1 516.6 115.8 515.8 119.2C514.9 122.5 513.8 125.8 512.8 129.2C511.7 132.5 510.7 135.9 509.4 139.2C508.2 142.6 506.8 146.3 505.2 149.3C503.7 152.4 501.7 155.1 500.2 157.7C498.7 160.2 497.3 162.7 496.1 164.5C494.8 166.3 490.8 168.2 492.4 168.5C494.1 168.7 501.5 166.9 505.9 166.2C510.4 165.4 516.9 163.6 519.2 163.8C521.5 163.9 520.3 165.2 519.8 166.9C519.4 168.6 519.4 171.9 516.7 173.8C514 175.6 505.7 177.2 503.6 177.9" fill="none" stroke="#555878" stroke-width="1.4" stroke-linejoin="round"/>
</g>
<text x="481.8" y="28.8" font-size="7.3" text-anchor="middle" textLength="53.3" lengthAdjust="spacingAndGlyphs">Directivity pattern</text>
<text x="481.6" y="42.2" font-size="4.8" text-anchor="middle" textLength="16" lengthAdjust="spacingAndGlyphs">0&#176;/ 0 dB</text>
<text x="481.3" y="67" font-size="4.8" text-anchor="middle">-5</text>
<text x="481.3" y="91.3" font-size="4.8" text-anchor="middle">-10</text>
<text x="481.3" y="115.6" font-size="4.8" text-anchor="middle">-15</text>
<text x="481.3" y="139.9" font-size="4.8" text-anchor="middle">-20</text>
<text x="481.3" y="164.2" font-size="4.8" text-anchor="middle">-25</text>
<text x="411" y="60.6" font-size="4.8" text-anchor="middle">-30&#176;</text>
<text x="552" y="60.6" font-size="4.8" text-anchor="middle">30&#176;</text>
<text x="360" y="110.9" font-size="4.8" text-anchor="middle">-60&#176;</text>
<text x="603.4" y="110.9" font-size="4.8" text-anchor="middle">60&#176;</text>
<text x="343" y="179.2" font-size="4.8" text-anchor="middle">-90&#176;</text>
<text x="621.7" y="179.6" font-size="4.8" text-anchor="middle">90&#176;</text>
<text x="620.7" y="150.8" font-size="4.4" text-anchor="middle">A</text>
<text x="620.7" y="156" font-size="4.4" text-anchor="middle">R</text>
<text x="620.7" y="161.2" font-size="4.4" text-anchor="middle">T</text>
<text x="620.7" y="166.4" font-size="4.4" text-anchor="middle">A</text>
<text x="627" y="48.6" font-size="5.2" textLength="11" lengthAdjust="spacingAndGlyphs">F (Hz)</text>
<rect x="627.2" y="52.9" width="1.7" height="3.2" fill="#111"/>
<text x="631" y="55.5" font-size="5.2" textLength="10" lengthAdjust="spacingAndGlyphs">8000</text>
<text x="627" y="63.9" font-size="5.2" textLength="14.5" lengthAdjust="spacingAndGlyphs">Overlay</text>
<rect x="627.2" y="68.3" width="1.7" height="3.2" fill="#e03030"/>
<text x="631" y="71.4" font-size="5.2" textLength="7.6" lengthAdjust="spacingAndGlyphs">250</text>
<rect x="627.2" y="74.1" width="1.7" height="3.2" fill="#2f86d8"/>
<text x="631" y="77.2" font-size="5.2" textLength="7.6" lengthAdjust="spacingAndGlyphs">500</text>
<rect x="627.2" y="80" width="1.7" height="3.2" fill="#4a1540"/>
<text x="631" y="83.1" font-size="5.2" textLength="10" lengthAdjust="spacingAndGlyphs">1000</text>
<rect x="627.2" y="85.8" width="1.7" height="3.2" fill="#5b2352"/>
<text x="631" y="88.9" font-size="5.2" textLength="10" lengthAdjust="spacingAndGlyphs">2000</text>
<rect x="627.2" y="91.6" width="1.7" height="3.2" fill="#27b060"/>
<text x="631" y="94.7" font-size="5.2" textLength="10" lengthAdjust="spacingAndGlyphs">4000</text>
<rect x="627.2" y="97.5" width="1.7" height="3.2" fill="#1e5a55"/>
<text x="631" y="100.6" font-size="5.2" textLength="10" lengthAdjust="spacingAndGlyphs">5000</text>
<rect x="627.2" y="103.3" width="1.7" height="3.2" fill="#d82a2a"/>
<text x="631" y="106.4" font-size="5.2" textLength="10" lengthAdjust="spacingAndGlyphs">6300</text>
<rect x="627.2" y="109.1" width="1.7" height="3.2" fill="#555878"/>
<text x="631" y="112.2" font-size="5.2" textLength="10" lengthAdjust="spacingAndGlyphs">8000</text>
<text x="480.5" y="192.8" font-size="7.0" text-anchor="middle" textLength="160" lengthAdjust="spacingAndGlyphs" xml:space="preserve">f =8000 Hz,  Q =  3.46,  DI =   5.4 dB,  Angle(-6dB) =  41.2&#176;</text>
<text x="366" y="204.9" font-size="6.3">1/12</text>
</g>
<g id="panel1">
<g clip-path="url(#cp1)"><g filter="url(#jet)">
<rect x="30.5" y="247.6" width="258.7" height="161.5" fill="#595959"/>
<polygon fill="#8c8c8c" points="20,229 205,229 205,429 20,429"/>
<polygon fill="#737373" points="205,229 208,229 208,429 205,429"/>
<polygon fill="#737373" points="202.5,248.5 216.9,248.5 217.5,273.5 226.2,301 218.8,301 207.5,279.8"/>
<polygon fill="#8c8c8c" points="201.2,248.5 209.4,248.5 215,273.5 221.2,286 225.6,301 216.2,298.5 206.2,277.2"/>
<polygon fill="#404040" points="214,248.5 218.8,248.5 218.5,267.2 216.9,273.5 214.8,267.2"/>
<polygon fill="#737373" points="218.8,248.5 226.9,248.5 226.9,286 225,289.8 218.8,286"/>
<polygon fill="#8c8c8c" points="219.4,264.8 225,264.8 225.6,286 218.8,286"/>
<polygon fill="#404040" points="226.9,248.5 258.8,248.5 258.1,263.5 250,273.5 248.8,281 243.8,281 237.5,273.5 236.2,266 228.8,266"/>
<polygon fill="#737373" points="229.4,271 238.1,271 238.8,286 237.5,307.2 229.4,307.2 228.8,286"/>
<polygon fill="#8c8c8c" points="230.6,284.8 236.9,284.8 236.9,307.2 230.6,307.2"/>
<polygon fill="#404040" points="253.8,288.5 253.2,294.5 251.6,299.3 249.4,301.9 246.9,301.9 244.6,299.3 243.1,294.5 242.5,288.5 243.1,282.5 244.6,277.7 246.9,275.1 249.4,275.1 251.6,277.7 253.2,282.5"/>
<polygon fill="#262626" points="251.2,288.5 250.9,292.3 250.1,295.3 248.8,297 247.4,297 246.2,295.3 245.3,292.3 245,288.5 245.3,284.7 246.2,281.7 247.4,280 248.8,280 250.1,281.7 250.9,284.7"/>
<polygon fill="#737373" points="251.2,258.5 257.8,258.5 258.5,286 257.8,309.8 251.9,309.8 251.2,286"/>
<polygon fill="#8c8c8c" points="252.5,279.8 257.2,279.8 257.2,308.5 252.5,308.5"/>
<polygon fill="#404040" points="258.1,248.5 285,248.5 285,289.8 258.8,289.8"/>
<polygon fill="#262626" points="258.5,248.5 285,248.5 285,282.2 270,281.6 260,279.8"/>
<polygon fill="#0d0d0d" points="259,248.5 285,248.5 285,278.5 277.5,278.5 275,261 270,261 269.4,278.5 260,277.9"/>
<polygon fill="#737373" points="266.2,298.5 275,294.8 286.2,294.8 286.2,314.8 265,314.8"/>
<polygon fill="#737373" points="202.5,405.5 207.5,380.5 213.8,365.5 217.5,370.5 225,388 225.6,405.5"/>
<polygon fill="#8c8c8c" points="204.4,398 207.5,375.5 213.1,364.2 216.9,369.2 224.4,390.5 218.8,390.5 213.8,379.2 211.2,395.5"/>
<polygon fill="#404040" points="211,405.5 211.5,395.5 216.2,395.5 216.9,405.5"/>
<polygon fill="#737373" points="231.2,351.8 239,350.5 239.4,370.5 237.5,381.8 232.8,381.8 231.2,370.5"/>
<polygon fill="#8c8c8c" points="232.2,353.2 238.1,352.4 238.1,370.5 232.8,370.5"/>
<polygon fill="#404040" points="228.1,383 258.8,383 258.8,405.5 228.1,405.5"/>
<polygon fill="#262626" points="236.9,398 245.6,398 245.6,405.5 236.9,405.5"/>
<polygon fill="#404040" points="253.1,370.5 252.6,377.6 251,383.2 248.8,386.3 246.2,386.3 244,383.2 242.4,377.6 241.9,370.5 242.4,363.4 244,357.8 246.2,354.7 248.8,354.7 251,357.8 252.6,363.4"/>
<polygon fill="#262626" points="250.5,369.2 250.2,372.5 249.4,375.1 248.2,376.6 246.8,376.6 245.6,375.1 244.8,372.5 244.5,369.2 244.8,366 245.6,363.4 246.8,361.9 248.2,361.9 249.4,363.4 250.2,366"/>
<polygon fill="#737373" points="252.5,348.6 258.8,348.6 259,395.5 253.1,395.5"/>
<polygon fill="#737373" points="265,343 286.2,339.2 286.2,358 275,359.2 267.5,356.8"/>
<polygon fill="#262626" points="260,370.5 285,370.5 285,405.5 258.8,405.5"/>
<polygon fill="#0d0d0d" points="261,374.5 285,374.5 285,405.5 260,405.5"/>
<polygon fill="#a6a6a6" points="20,328.4 30,239 198,239 198.8,248.5 200,255.4 205.4,259.4 207.9,270.2 209.8,283.1 213.8,290.1 216,293.6 219,291 222,290 226.4,299.8 230.6,302.8 240.4,308.9 250,311.2 256,310.5 258.1,308.2 261.2,310 265,313.5 270,315.8 275,316.4 278.8,317.2 283.2,317.8 290,328.4 283.2,340 277.5,340.8 272.5,341.8 266.2,344.2 261.2,347.4 257.5,350.2 255,346.8 250.9,346 241.8,348.8 234.4,353.2 228,355.2 223.4,362.5 219.8,367.1 217.5,367 215,368.6 212.1,377.1 209.4,382.8 206.6,389 203.8,395.5 201.2,401 200,408 198,419 30,419"/>
<polygon fill="#bfbfbf" points="20,328.4 30,239 160,239 160.5,248.5 164.2,257.2 168,261 170.5,264.8 174.2,266 178,264.1 181.8,261 185.5,259.1 189.2,257.9 193,257.2 196.8,258.5 199.5,260 200,263.5 202.5,266.6 205.4,270.2 207.9,279.2 209.8,290.1 213.8,296 216,297.9 219,295 222,296 226.4,304 230.6,307 240.4,311.2 250,313.8 256,313 258.1,310 261.2,311.6 265,314.8 270,317 275,317.9 278.8,319.1 283.2,320 290,328.4 283.2,338 277.5,338.8 272.5,339.9 266.2,342.4 261.2,345.5 257.5,348.2 255,344.9 250.9,344.2 241.8,346.5 234.4,350.2 228,352.5 223.4,358 219.8,361.1 217.5,362.4 215,364.2 212.1,372.1 209.4,377.8 206.6,384 203.8,389.9 201,395 199.2,399 193,401.1 185.5,399.9 180.5,398 176.8,394.9 173,393 169.2,395.5 167.4,408 166,419 30,419"/>
<polygon fill="#d9d9d9" points="20,328.4 30,239 137,239 137.4,248.5 138.6,261 140.5,266 143,270.4 145.5,271.6 148.6,269.8 151.8,267.9 155.5,268.5 159.2,270.4 163,274.1 166.1,277.9 169.2,279.8 173,279.8 176.1,277.9 179.2,274.8 183,272.9 188,271.6 191.8,270.4 195.5,269.1 199.2,269.1 200,271.6 202.5,275 205.4,279.2 207.9,287.1 209.8,297 213.8,301.5 216,303.4 222,302.8 226.4,308.2 230.6,310.8 240.4,314 250,315.8 256,315 258.1,311.6 261.2,313.5 265,316.6 270,318.5 275,319.5 278.8,321 283.2,322 290,328.4 283.2,336 277.5,336.8 272.5,338 266.2,340.5 261.2,343.6 257.5,346.1 255,343 250.9,342.4 241.8,344.2 234.4,347 228,348.8 223.4,350.2 219.8,351.8 217.5,353.2 215,357.4 212.1,364.2 209.4,369.9 206.6,376 203.8,381.8 201,387 199.2,391.2 198,393 195.5,395.5 191.8,394.2 186.8,390.5 181.8,388 178,384.2 174.2,379.2 171.1,376.8 168,378 164.2,383 160.5,389.2 155.5,391.8 150.5,391.8 146.8,389.2 144.2,386.8 141.8,389.2 139.2,395.5 137.4,408 137,419 30,419"/>
<polygon fill="#f2f2f2" points="20,328.4 30,239 64.5,239 64.8,254.8 73.5,257.9 83.5,260.4 93.5,261 97.2,263.5 102.2,267.2 107.2,271.6 111,273.5 116.6,274.1 118,273.5 123,271.6 128,276 130.5,281 133.6,287.2 138,290.4 143,291.6 148,290.4 151.8,287.9 155.5,289.8 159.2,293.5 163,296 168,298.5 171.8,297.2 175.5,295.4 179.2,292.9 184.2,291.6 188,290.4 190.5,286 194.2,283.5 198,284.8 200,283.1 204.9,290.1 206.9,298 209.8,306 211.8,309 216,312.5 222,313.2 226.4,315 230.6,316.2 240.4,318 250,318.8 256,318 258.1,316 260,318 262.5,320.2 265,321.2 270,322.5 275,323.8 278.8,324.8 283.2,325.5 290,328.4 283.2,332.5 277.5,333.2 272.5,334.2 266.2,335.8 262.5,337 260,339.2 257.5,342 255,339.2 250.9,338.8 241.8,340 234.4,341.5 228,342.5 223.4,343.5 219.8,344.9 215,347.4 212.1,352.2 209.4,357.4 206.6,363 203.8,368.6 201,374 198,375.5 195.5,376.8 191.8,373 188,368.6 183,368 178,366.1 174.2,362.4 170.5,360.5 166.8,361.8 161.8,364.9 156.8,369.2 153,373 149.2,370.5 144.2,368 139.2,368.6 134.2,371.8 130.5,379.2 126.8,385.5 123,388 118,384.2 118.2,387.8 114.4,386.3 108.1,389.6 100.6,396.4 93.1,402.2 85.5,403.9 84,419 30,419"/>
</g>
<path d="M44 253.6V403.1M50.4 253.6V403.1M55.9 253.6V403.1M60.7 253.6V403.1M65 253.6V403.1M93.6 253.6V403.1M110.3 253.6V403.1M122.1 253.6V403.1M131.3 253.6V403.1M138.8 253.6V403.1M145.2 253.6V403.1M150.7 253.6V403.1M155.5 253.6V403.1M159.8 253.6V403.1M188.4 253.6V403.1M205.1 253.6V403.1M216.9 253.6V403.1M226.1 253.6V403.1M233.6 253.6V403.1M240 253.6V403.1M245.5 253.6V403.1M250.3 253.6V403.1M254.7 253.6V403.1M36.5 261.9H283.2M36.5 278.5H283.2M36.5 295.1H283.2M36.5 311.7H283.2M36.5 328.4H283.2M36.5 345H283.2M36.5 361.6H283.2M36.5 378.2H283.2M36.5 394.8H283.2" stroke="#acacac" stroke-opacity="0.68" stroke-width="0.8" fill="none"/>
</g>
<path d="M34 261.9H36.5M34 278.5H36.5M34 295.1H36.5M34 311.7H36.5M34 328.4H36.5M34 345H36.5M34 361.6H36.5M34 378.2H36.5M34 394.8H36.5" stroke="#555" stroke-width="0.6" fill="none"/>
<text x="160" y="244.4" font-size="7.3" text-anchor="middle" textLength="64.5" lengthAdjust="spacingAndGlyphs">Directivity sonogram</text>
<text x="21.2" y="247.7" font-size="6.6" textLength="10.6" lengthAdjust="spacingAndGlyphs">deg</text>
<text x="31.8" y="264.2" font-size="6.4" text-anchor="end">-80.0</text>
<text x="31.8" y="280.8" font-size="6.4" text-anchor="end">-60.0</text>
<text x="31.8" y="297.4" font-size="6.4" text-anchor="end">-40.0</text>
<text x="31.8" y="314" font-size="6.4" text-anchor="end">-20.0</text>
<text x="31.8" y="330.7" font-size="6.4" text-anchor="end">0.0</text>
<text x="31.8" y="347.3" font-size="6.4" text-anchor="end">20.0</text>
<text x="31.8" y="363.9" font-size="6.4" text-anchor="end">40.0</text>
<text x="31.8" y="380.5" font-size="6.4" text-anchor="end">60.0</text>
<text x="31.8" y="397.1" font-size="6.4" text-anchor="end">80.0</text>
<text x="36.5" y="413.8" font-size="6.6" text-anchor="middle">50</text>
<text x="65" y="413.8" font-size="6.6" text-anchor="middle">100</text>
<text x="93.6" y="413.8" font-size="6.6" text-anchor="middle">200</text>
<text x="131.3" y="413.8" font-size="6.6" text-anchor="middle">500</text>
<text x="159.8" y="413.8" font-size="6.6" text-anchor="middle">1k</text>
<text x="188.4" y="413.8" font-size="6.6" text-anchor="middle">2k</text>
<text x="226.1" y="413.8" font-size="6.6" text-anchor="middle">5k</text>
<text x="254.7" y="413.8" font-size="6.6" text-anchor="middle">10k</text>
<text x="283.2" y="413.8" font-size="6.6" text-anchor="middle">20k</text>
<text x="282.8" y="421.9" font-size="6.6" text-anchor="end" textLength="45.5" lengthAdjust="spacingAndGlyphs">Frequency (Hz)</text>
<text x="287.6" y="260.1" font-size="7.2" text-anchor="middle">A</text>
<text x="287.6" y="267.7" font-size="7.2" text-anchor="middle">R</text>
<text x="287.6" y="275.3" font-size="7.2" text-anchor="middle">T</text>
<text x="287.6" y="282.9" font-size="7.2" text-anchor="middle">A</text>
<rect x="292.5" y="253.6" width="7.4" height="15.2" fill="rgb(133,0,0)"/>
<text x="303.6" y="255.9" font-size="6.6">0 dB</text>
<rect x="292.5" y="268.6" width="7.4" height="15.2" fill="rgb(226,0,0)"/>
<text x="303.6" y="270.9" font-size="6.6">-2.5</text>
<rect x="292.5" y="283.5" width="7.4" height="15.2" fill="rgb(255,85,0)"/>
<text x="303.6" y="285.8" font-size="6.6">-5.0</text>
<rect x="292.5" y="298.5" width="7.4" height="15.2" fill="rgb(255,172,0)"/>
<text x="303.6" y="300.8" font-size="6.6">-7.5</text>
<rect x="292.5" y="313.4" width="7.4" height="15.2" fill="rgb(240,245,25)"/>
<text x="303.6" y="315.7" font-size="6.6">-10.0</text>
<rect x="292.5" y="328.4" width="7.4" height="15.2" fill="rgb(145,245,105)"/>
<text x="303.6" y="330.7" font-size="6.6">-12.5</text>
<rect x="292.5" y="343.4" width="7.4" height="15.2" fill="rgb(40,232,222)"/>
<text x="303.6" y="345.7" font-size="6.6">-15.0</text>
<rect x="292.5" y="358.3" width="7.4" height="15.2" fill="rgb(0,150,245)"/>
<text x="303.6" y="360.6" font-size="6.6">-17.5</text>
<rect x="292.5" y="373.3" width="7.4" height="15.2" fill="rgb(0,55,238)"/>
<text x="303.6" y="375.6" font-size="6.6">-20.0</text>
<rect x="292.5" y="388.2" width="7.4" height="15.2" fill="rgb(0,0,218)"/>
<text x="303.6" y="390.5" font-size="6.6">-22.5</text>
<text x="303.6" y="405.5" font-size="6.6">-25.0</text>
<text x="36.2" y="434.4" font-size="6.3">1/3 Okt</text>
<text x="8.6" y="453.1" font-size="15.6" font-weight="bold" textLength="55.5" lengthAdjust="spacingAndGlyphs">1/3 Okt</text>
<g clip-path="url(#pp1)">
<path d="M360.5 406.4A121.2 121.4 0 0 1 602.9 406.4M385.2 406.4A96.5 97.1 0 0 1 578.2 406.4M410 406.4A71.7 72.8 0 0 1 553.4 406.4M434.7 406.4A47 48.5 0 0 1 528.7 406.4M459.5 406.4A22.2 24.2 0 0 1 503.9 406.4M471.9 404.7L350.1 383.2M472.3 403L356.2 360.7M474 400L379.4 320.5M475.3 398.7L395.8 304.1M478.3 397L436 280.9M480 396.6L458.5 274.8M483.4 396.6L504.9 274.8M485.1 397L527.4 280.9M488.1 398.7L567.6 304.1M489.4 400L584 320.5M491.1 403L607.2 360.7M491.5 404.7L613.3 383.2" stroke="#9a9aa8" stroke-width="0.6" stroke-dasharray="1.6 2.2" fill="none"/>
<path d="M348.1 406.4A133.6 133.6 0 0 1 615.3 406.4M372.9 406.4A108.8 109.3 0 0 1 590.5 406.4M397.6 406.4A84.1 85 0 0 1 565.8 406.4M422.4 406.4A59.3 60.7 0 0 1 541 406.4M447.1 406.4A34.6 36.4 0 0 1 516.3 406.4M471.7 406.4A10 11 0 0 1 491.7 406.4M473 401.4L366 339.6M476.7 397.7L414.9 290.7M481.7 396.4L481.7 272.8M486.7 397.7L548.5 290.7M490.4 401.4L597.4 339.6M346.1 406.4H617.3" stroke="#8c8c8c" stroke-width="0.7" fill="none"/>
<path d="M360.5 406.4C360.4 405.3 360 402.1 359.9 400C359.8 397.9 359.8 395.7 359.9 393.6C359.9 391.4 359.9 389.3 360 387.1C360.1 385 360.3 382.8 360.6 380.7C360.9 378.5 361.3 376.4 361.6 374.2C362 372.1 362.3 369.9 362.8 367.8C363.2 365.6 363.9 363.5 364.5 361.4C365 359.3 365.5 357.1 366.2 355C366.9 352.9 367.7 350.8 368.5 348.7C369.3 346.6 370.1 344.5 371 342.5C371.9 340.4 372.8 338.4 373.8 336.3C374.8 334.3 375.9 332.3 377 330.3C378.1 328.3 379.2 326.3 380.4 324.4C381.6 322.5 383 320.6 384.4 318.8C385.7 316.9 387.1 315.1 388.7 313.4C390.2 311.6 391.8 310 393.5 308.4C395.1 306.8 396.8 305.2 398.5 303.6C400.2 302.1 402 300.6 403.8 299.2C405.6 297.7 407.4 296.3 409.3 295C411.2 293.6 413.1 292.3 415.1 291.1C417.1 289.9 419.2 288.8 421.2 287.7C423.3 286.6 425.4 285.6 427.5 284.6C429.6 283.7 431.8 282.8 433.9 281.9C436.1 281.1 438.3 280.3 440.5 279.6C442.7 278.8 444.9 278.2 447.2 277.5C449.4 276.9 451.7 276.4 454 275.9C456.2 275.4 458.5 274.9 460.8 274.6C463.1 274.2 465.4 273.9 467.7 273.6C470.1 273.4 472.4 273.2 474.7 273C477 272.9 479.4 272.8 481.7 272.8C484 272.8 486.4 272.9 488.7 273C491 273.2 493.3 273.4 495.7 273.6C498 273.9 500.3 274.2 502.6 274.6C504.9 274.9 507.2 275.4 509.4 275.9C511.7 276.4 514 276.9 516.2 277.6C518.5 278.2 520.7 278.8 522.9 279.5C525.1 280.3 527.3 281.1 529.5 281.9C531.6 282.8 533.8 283.7 535.9 284.6C538 285.6 540.1 286.6 542.2 287.7C544.2 288.8 546.3 289.9 548.3 291.1C550.2 292.3 552.2 293.6 554.1 294.9C556 296.3 557.8 297.7 559.6 299.2C561.4 300.6 563.2 302.1 564.9 303.6C566.7 305.1 568.3 306.8 569.9 308.4C571.6 310 573.2 311.6 574.7 313.4C576.3 315.1 577.7 316.9 579.1 318.7C580.4 320.6 581.7 322.5 582.9 324.4C584.2 326.4 585.4 328.3 586.5 330.3C587.6 332.3 588.5 334.3 589.5 336.4C590.5 338.4 591.6 340.4 592.5 342.4C593.4 344.5 594.1 346.6 594.9 348.7C595.7 350.8 596.5 352.9 597.2 355C597.9 357.1 598.4 359.2 599 361.4C599.6 363.5 600.1 365.7 600.5 367.8C601 369.9 601.5 372 601.9 374.2C602.2 376.3 602.4 378.5 602.7 380.7C603 382.8 603.3 385 603.5 387.1C603.6 389.3 603.5 391.4 603.5 393.6C603.5 395.7 603.6 397.9 603.5 400C603.4 402.2 603 405.3 603 406.4" fill="none" stroke="#e03030" stroke-width="1.4" stroke-linejoin="round"/>
<path d="M366.2 406.4C366.1 405.4 365.7 402.3 365.7 400.3C365.6 398.3 365.8 396.3 365.8 394.2C365.9 392.2 365.9 390.1 366.1 388.1C366.2 386 366.5 384 366.7 382C367 379.9 367.4 377.9 367.8 375.9C368.1 373.8 368.4 371.8 368.9 369.7C369.3 367.7 370 365.7 370.5 363.7C371 361.7 371.5 359.6 372.1 357.6C372.8 355.6 373.6 353.7 374.3 351.7C375.1 349.7 375.8 347.7 376.5 345.7C377.3 343.7 378 341.6 378.8 339.6C379.6 337.6 380.5 335.5 381.3 333.5C382.2 331.5 383.1 329.4 384.1 327.4C385.1 325.4 386.3 323.5 387.5 321.6C388.7 319.7 389.9 317.7 391.2 315.9C392.6 314.1 394.1 312.4 395.5 310.7C397 309 398.5 307.3 400.1 305.7C401.7 304 403.3 302.4 405 300.9C406.7 299.3 408.4 297.8 410.2 296.3C412 294.9 413.8 293.4 415.7 292.1C417.6 290.8 419.6 289.7 421.7 288.6C423.7 287.5 425.7 286.4 427.8 285.4C429.9 284.4 432.1 283.5 434.2 282.7C436.3 281.8 438.5 280.9 440.7 280.2C442.9 279.4 445.1 278.7 447.3 278.1C449.5 277.4 451.8 276.8 454 276.3C456.3 275.8 458.6 275.3 460.9 274.9C463.2 274.5 465.5 274.1 467.8 273.8C470.1 273.5 472.4 273.3 474.7 273.1C477 273 479.4 272.9 481.7 272.9C484 272.9 486.4 273 488.7 273.1C491 273.3 493.3 273.5 495.6 273.8C497.9 274.1 500.2 274.5 502.5 274.9C504.8 275.3 507.1 275.8 509.4 276.3C511.6 276.8 513.9 277.4 516.1 278.1C518.3 278.7 520.5 279.4 522.7 280.2C524.9 280.9 527.1 281.8 529.2 282.7C531.3 283.5 533.5 284.4 535.6 285.4C537.7 286.4 539.7 287.4 541.7 288.6C543.8 289.7 545.8 290.9 547.7 292.1C549.6 293.4 551.4 294.8 553.2 296.3C555 297.7 556.7 299.3 558.4 300.9C560 302.4 561.7 304 563.3 305.6C564.9 307.3 566.4 309 567.9 310.7C569.3 312.4 570.8 314.1 572.2 315.9C573.5 317.7 574.8 319.6 576 321.5C577.1 323.4 578.2 325.4 579.2 327.4C580.3 329.4 581.2 331.4 582.1 333.4C583 335.5 583.7 337.6 584.5 339.6C585.3 341.7 586.1 343.6 586.9 345.7C587.7 347.7 588.3 349.7 589.1 351.7C589.8 353.7 590.6 355.6 591.2 357.6C591.9 359.6 592.4 361.7 593 363.7C593.5 365.7 594 367.7 594.4 369.8C594.9 371.8 595.4 373.8 595.7 375.8C596.1 377.9 596.3 379.9 596.6 382C596.8 384 597.2 386 597.4 388.1C597.5 390.1 597.5 392.2 597.5 394.2C597.6 396.3 597.7 398.3 597.7 400.3C597.7 402.4 597.4 405.4 597.3 406.4" fill="none" stroke="#2f86d8" stroke-width="1.5" stroke-linejoin="round"/>
<path d="M386.8 406.4C386.3 405.5 384.7 403 383.8 401.3C382.9 399.5 382.2 397.7 381.5 395.9C380.7 394 379.9 392.1 379.3 390.2C378.8 388.3 378.4 386.3 378.1 384.4C377.8 382.4 377.4 380.4 377.3 378.4C377.2 376.4 377.2 374.5 377.4 372.5C377.5 370.5 377.7 368.6 378 366.6C378.2 364.6 378.5 362.6 378.8 360.6C379.2 358.6 379.8 356.7 380.3 354.7C380.7 352.7 381.2 350.7 381.7 348.7C382.3 346.7 382.9 344.7 383.6 342.7C384.2 340.6 384.8 338.6 385.5 336.5C386.3 334.5 387.1 332.5 387.9 330.5C388.8 328.5 389.8 326.5 390.7 324.5C391.7 322.5 392.8 320.5 393.9 318.6C395.1 316.7 396.4 315 397.7 313.1C399.1 311.3 400.4 309.5 401.8 307.8C403.3 306 404.8 304.4 406.4 302.7C407.9 301 409.5 299.3 411.1 297.7C412.8 296.2 414.6 294.7 416.4 293.3C418.2 291.9 420.2 290.7 422.2 289.6C424.1 288.4 426.2 287.3 428.2 286.3C430.3 285.3 432.4 284.4 434.5 283.5C436.6 282.6 438.8 281.7 440.9 280.9C443.1 280.1 445.3 279.4 447.5 278.7C449.7 278 451.9 277.4 454.1 276.8C456.4 276.2 458.7 275.7 460.9 275.3C463.2 274.8 465.5 274.4 467.8 274.1C470.1 273.7 472.4 273.4 474.7 273.3C477 273.1 479.4 272.9 481.7 272.9C484 272.9 486.4 273.1 488.7 273.3C491 273.4 493.3 273.7 495.6 274.1C497.9 274.4 500.2 274.8 502.5 275.2C504.7 275.7 507 276.2 509.3 276.8C511.5 277.4 513.7 278 515.9 278.7C518.1 279.4 520.3 280.1 522.5 280.9C524.6 281.7 526.8 282.6 528.9 283.5C531 284.4 533.1 285.3 535.2 286.3C537.2 287.3 539.3 288.4 541.2 289.6C543.2 290.7 545.2 291.9 547 293.3C548.9 294.6 550.6 296.2 552.3 297.8C553.9 299.3 555.5 301 557 302.7C558.6 304.4 560.1 306 561.6 307.8C563 309.5 564.3 311.3 565.7 313.1C567 315 568.3 316.7 569.5 318.6C570.6 320.5 571.6 322.5 572.6 324.5C573.6 326.5 574.6 328.5 575.5 330.5C576.3 332.5 577.1 334.5 577.8 336.5C578.6 338.6 579.2 340.6 579.9 342.6C580.5 344.7 581.1 346.7 581.7 348.7C582.2 350.7 582.7 352.7 583.1 354.7C583.6 356.7 584.2 358.6 584.6 360.6C584.9 362.6 585.1 364.6 585.4 366.6C585.7 368.6 586 370.5 586.1 372.5C586.2 374.5 586.2 376.5 586 378.4C585.9 380.4 585.7 382.4 585.3 384.4C585 386.3 584.6 388.3 584 390.2C583.5 392.1 582.7 394 581.9 395.9C581.2 397.7 580.5 399.5 579.6 401.3C578.7 403 577.1 405.5 576.6 406.4" fill="none" stroke="#4a1540" stroke-width="1.3" stroke-linejoin="round"/>
<path d="M385.8 406.4C385.3 405.5 383.8 403 382.9 401.2C382 399.5 381.4 397.6 380.7 395.8C380 393.9 379.1 392 378.6 390.1C378.1 388.1 377.7 386.2 377.4 384.2C377.1 382.3 376.8 380.3 376.7 378.3C376.6 376.3 376.7 374.3 376.8 372.3C376.9 370.3 377.2 368.4 377.4 366.4C377.7 364.4 378 362.4 378.4 360.4C378.8 358.4 379.3 356.5 379.8 354.5C380.3 352.5 380.8 350.5 381.3 348.4C381.9 346.4 382.6 344.5 383.2 342.4C383.9 340.4 384.5 338.3 385.2 336.3C386 334.3 386.8 332.3 387.7 330.3C388.6 328.3 389.5 326.3 390.5 324.3C391.6 322.4 392.6 320.4 393.8 318.5C394.9 316.6 396.3 314.8 397.6 313C398.9 311.2 400.3 309.4 401.7 307.6C403.2 305.9 404.7 304.3 406.3 302.6C407.8 300.9 409.4 299.2 411.1 297.7C412.8 296.1 414.5 294.6 416.4 293.2C418.2 291.9 420.2 290.7 422.1 289.5C424.1 288.3 426.2 287.3 428.2 286.3C430.3 285.3 432.4 284.3 434.5 283.4C436.6 282.5 438.7 281.6 440.9 280.8C443.1 280 445.3 279.3 447.5 278.6C449.7 278 451.9 277.3 454.1 276.8C456.4 276.2 458.7 275.7 460.9 275.2C463.2 274.8 465.5 274.4 467.8 274.1C470.1 273.7 472.4 273.4 474.7 273.2C477 273.1 479.4 272.9 481.7 272.9C484 272.9 486.4 273.1 488.7 273.2C491 273.4 493.3 273.7 495.6 274.1C497.9 274.4 500.2 274.8 502.5 275.2C504.8 275.7 507 276.2 509.3 276.8C511.5 277.3 513.7 278 515.9 278.6C518.1 279.3 520.3 280 522.5 280.8C524.7 281.6 526.8 282.5 528.9 283.4C531 284.3 533.1 285.3 535.2 286.3C537.2 287.3 539.3 288.4 541.3 289.5C543.2 290.7 545.2 291.8 547.1 293.2C548.9 294.6 550.6 296.1 552.3 297.7C554 299.2 555.6 300.9 557.1 302.6C558.7 304.2 560.2 305.9 561.7 307.7C563.1 309.4 564.5 311.2 565.8 313C567.1 314.8 568.5 316.6 569.6 318.5C570.8 320.3 571.8 322.4 572.8 324.3C573.9 326.3 574.8 328.3 575.7 330.3C576.6 332.3 577.4 334.3 578.1 336.3C578.9 338.4 579.6 340.4 580.2 342.4C580.9 344.4 581.5 346.4 582.1 348.5C582.6 350.5 583.1 352.5 583.6 354.5C584.1 356.5 584.7 358.4 585 360.4C585.4 362.4 585.7 364.4 585.9 366.4C586.2 368.4 586.5 370.3 586.7 372.3C586.8 374.3 586.8 376.3 586.7 378.3C586.6 380.3 586.3 382.3 586 384.2C585.7 386.2 585.3 388.1 584.8 390.1C584.2 392 583.4 393.9 582.7 395.8C582 397.6 581.4 399.5 580.5 401.2C579.6 403 578.1 405.5 577.6 406.4" fill="none" stroke="#5b2352" stroke-width="1.2" stroke-linejoin="round"/>
<path d="M423.4 406.4C422.8 404.6 420.6 399.5 419.2 395.8C417.9 392 416.1 387.7 415.1 384.1C414 380.4 413.4 376.6 412.9 374.1C412.4 371.7 412.3 372 412.1 369.6C411.8 367.1 411.6 363.4 411.6 359.6C411.6 355.8 411.7 351 412.1 346.8C412.4 342.5 412.8 338.2 413.8 333.9C414.8 329.7 416.1 325.4 418.1 321.1C420 316.9 422.6 312.6 425.4 308.4C428.3 304.1 431.3 299.5 435.1 295.6C438.8 291.6 443.6 287.7 447.8 284.9C452.1 282 454.9 280.4 460.6 278.4C466.3 276.5 475 273.1 482.1 273.1C489.1 273.1 497.2 276.5 502.8 278.4C508.3 280.4 511.3 282 515.5 284.9C519.8 287.7 524.6 291.6 528.3 295.6C532.1 299.5 535.1 304.1 538 308.4C540.8 312.6 543.4 316.9 545.3 321.1C547.3 325.4 548.7 329.7 549.7 333.9C550.7 338.2 551 342.5 551.3 346.8C551.7 351 551.8 355.8 551.8 359.6C551.8 363.4 551.6 367.1 551.3 369.6C551.1 372 551 371.7 550.5 374.1C550 376.6 549.4 380.4 548.3 384.1C547.3 387.7 545.6 392 544.2 395.8C542.8 399.5 540.7 404.6 540 406.4" fill="none" stroke="#27b060" stroke-width="1.4" stroke-linejoin="round"/>
<path d="M425.1 406.4C424.4 404.6 422.3 399.5 420.9 395.8C419.6 392 417.9 388 416.8 384.1C415.6 380.1 414.5 375.9 413.9 372.2C413.4 368.6 413.3 365.7 413.4 362.1C413.6 358.6 413.9 355.4 414.8 351.1C415.8 346.7 417.4 340.9 419.1 336.1C420.7 331.2 422.5 326.6 424.4 322.1C426.4 317.7 428.4 313.6 430.8 309.4C433.3 305.1 436.1 300.5 439.3 296.6C442.5 292.6 446.3 288.9 450.1 285.9C453.8 283 456.4 281 461.8 278.9C467.1 276.7 475.4 273.1 482.1 273.1C488.7 273.1 496.4 276.7 501.6 278.9C506.9 281 509.6 283 513.3 285.9C517.1 288.9 520.8 292.6 524 296.6C527.2 300.5 530.1 305.1 532.5 309.4C535 313.6 537 317.7 539 322.1C540.9 326.6 542.7 331.2 544.3 336.1C545.9 340.9 547.6 346.7 548.5 351.1C549.5 355.4 549.8 358.6 550 362.1C550.1 365.7 550 368.6 549.5 372.2C548.9 375.9 547.8 380.1 546.7 384.1C545.5 388 543.9 392 542.5 395.8C541.1 399.5 539 404.6 538.2 406.4" fill="none" stroke="#1e5a55" stroke-width="1.3" stroke-linejoin="round"/>
<path d="M443.9 406.4C442.6 405.7 438.1 404.2 435.6 402.5C433 400.7 430.9 398.8 428.8 395.8C426.8 392.7 424.9 387.4 423.4 384.1C422 380.7 420.8 378.2 420.1 375.6C419.4 373.1 418.8 371.5 419.2 369C419.7 366.4 421.5 363.1 422.6 360.6C423.8 358 425 356.4 425.9 353.9C426.9 351.3 427.9 348.2 428.4 345.4C429 342.7 429.1 339.1 429.3 337.1C429.6 335.2 429 336.6 429.8 333.9C430.5 331.3 432.5 325.4 434.1 321.1C435.6 316.9 437.4 312.6 439.3 308.4C441.3 304.1 443.3 299.5 445.8 295.6C448.2 291.6 451.2 287.7 454.2 284.9C457.3 282 459.2 280.4 463.8 278.4C468.5 276.5 476.1 273.1 482.1 273.1C488 273.1 495 276.5 499.6 278.4C504.1 280.4 506.1 282 509.1 284.9C512.2 287.7 515.2 291.6 517.7 295.6C520.1 299.5 522.1 304.1 524 308.4C526 312.6 527.7 316.9 529.3 321.1C530.9 325.4 532.9 331.3 533.7 333.9C534.4 336.6 533.8 335.2 534 337.1C534.3 339.1 534.4 342.7 535 345.4C535.5 348.2 536.5 351.3 537.5 353.9C538.4 356.4 539.6 358 540.8 360.6C541.9 363.1 543.7 366.4 544.2 369C544.6 371.5 544 373.1 543.2 375.6C542.5 378.2 541.4 380.7 540 384.1C538.5 387.4 536.6 392.7 534.5 395.8C532.5 398.8 530.4 400.7 527.8 402.5C525.3 404.2 520.9 405.7 519.5 406.4" fill="none" stroke="#d82a2a" stroke-width="1.5" stroke-linejoin="round"/>
<path d="M448.1 406.4C447.4 406.2 445.8 406.2 443.9 405C442.1 403.7 438.8 401.7 437.1 399.1C435.5 396.6 433.6 392 433.8 389.9C434.1 387.8 436 387.3 438.8 386.6C441.6 385.8 447.1 385.2 450.6 385.4C454.1 385.5 458.9 388.3 459.8 387.6C460.8 386.8 457.7 383.5 456.4 380.6C455.2 377.8 453.5 373.9 452.2 370.6C451 367.2 449.9 364.2 448.9 360.6C448 356.9 447.1 352.4 446.4 348.8C445.8 345.1 445.2 342.1 444.8 338.8C444.3 335.4 444.1 330.9 443.9 328.6C443.8 326.4 443.5 328.5 443.6 325.4C443.8 322.4 443.8 315.1 444.6 310.4C445.5 305.8 447 301.6 448.9 297.6C450.9 293.7 453.4 290.1 456.4 286.9C459.5 283.8 462.8 280.8 467.1 278.4C471.3 276.1 477.2 273.1 482.1 273.1C486.9 273.1 492.2 276.1 496.3 278.4C500.5 280.8 503.9 283.8 506.9 286.9C510 290.1 512.5 293.7 514.5 297.6C516.4 301.6 517.9 305.8 518.8 310.4C519.6 315.1 519.6 322.4 519.8 325.4C519.9 328.5 519.6 326.4 519.5 328.6C519.3 330.9 519.1 335.4 518.7 338.8C518.2 342.1 517.7 345.1 517 348.8C516.2 352.4 515.4 356.9 514.5 360.6C513.5 364.2 512.4 367.2 511.1 370.6C509.9 373.9 508.2 377.8 506.9 380.6C505.7 383.5 502.6 386.8 503.6 387.6C504.5 388.3 509.2 385.5 512.8 385.4C516.2 385.2 521.8 385.8 524.5 386.6C527.3 387.3 529.3 387.8 529.5 389.9C529.8 392 527.9 396.6 526.2 399.1C524.6 401.7 521.3 403.7 519.5 405C517.6 406.2 516 406.2 515.2 406.4" fill="none" stroke="#555878" stroke-width="1.4" stroke-linejoin="round"/>
</g>
<text x="481.8" y="257.3" font-size="7.3" text-anchor="middle" textLength="53.3" lengthAdjust="spacingAndGlyphs">Directivity pattern</text>
<text x="481.6" y="270.7" font-size="4.8" text-anchor="middle" textLength="16" lengthAdjust="spacingAndGlyphs">0&#176;/ 0 dB</text>
<text x="481.3" y="295.5" font-size="4.8" text-anchor="middle">-5</text>
<text x="481.3" y="319.8" font-size="4.8" text-anchor="middle">-10</text>
<text x="481.3" y="344.1" font-size="4.8" text-anchor="middle">-15</text>
<text x="481.3" y="368.4" font-size="4.8" text-anchor="middle">-20</text>
<text x="481.3" y="392.7" font-size="4.8" text-anchor="middle">-25</text>
<text x="411" y="289.1" font-size="4.8" text-anchor="middle">-30&#176;</text>
<text x="552" y="289.1" font-size="4.8" text-anchor="middle">30&#176;</text>
<text x="360" y="339.4" font-size="4.8" text-anchor="middle">-60&#176;</text>
<text x="603.4" y="339.4" font-size="4.8" text-anchor="middle">60&#176;</text>
<text x="343" y="407.7" font-size="4.8" text-anchor="middle">-90&#176;</text>
<text x="621.7" y="408.1" font-size="4.8" text-anchor="middle">90&#176;</text>
<text x="620.7" y="379.3" font-size="4.4" text-anchor="middle">A</text>
<text x="620.7" y="384.5" font-size="4.4" text-anchor="middle">R</text>
<text x="620.7" y="389.7" font-size="4.4" text-anchor="middle">T</text>
<text x="620.7" y="394.9" font-size="4.4" text-anchor="middle">A</text>
<text x="627" y="277.1" font-size="5.2" textLength="11" lengthAdjust="spacingAndGlyphs">F (Hz)</text>
<rect x="627.2" y="281.4" width="1.7" height="3.2" fill="#111"/>
<text x="631" y="284" font-size="5.2" textLength="10" lengthAdjust="spacingAndGlyphs">8000</text>
<text x="627" y="292.4" font-size="5.2" textLength="14.5" lengthAdjust="spacingAndGlyphs">Overlay</text>
<rect x="627.2" y="296.8" width="1.7" height="3.2" fill="#e03030"/>
<text x="631" y="299.9" font-size="5.2" textLength="7.6" lengthAdjust="spacingAndGlyphs">250</text>
<rect x="627.2" y="302.6" width="1.7" height="3.2" fill="#2f86d8"/>
<text x="631" y="305.7" font-size="5.2" textLength="7.6" lengthAdjust="spacingAndGlyphs">500</text>
<rect x="627.2" y="308.5" width="1.7" height="3.2" fill="#4a1540"/>
<text x="631" y="311.6" font-size="5.2" textLength="10" lengthAdjust="spacingAndGlyphs">1000</text>
<rect x="627.2" y="314.3" width="1.7" height="3.2" fill="#5b2352"/>
<text x="631" y="317.4" font-size="5.2" textLength="10" lengthAdjust="spacingAndGlyphs">2000</text>
<rect x="627.2" y="320.1" width="1.7" height="3.2" fill="#27b060"/>
<text x="631" y="323.2" font-size="5.2" textLength="10" lengthAdjust="spacingAndGlyphs">4000</text>
<rect x="627.2" y="325.9" width="1.7" height="3.2" fill="#1e5a55"/>
<text x="631" y="329" font-size="5.2" textLength="10" lengthAdjust="spacingAndGlyphs">5000</text>
<rect x="627.2" y="331.8" width="1.7" height="3.2" fill="#d82a2a"/>
<text x="631" y="334.9" font-size="5.2" textLength="10" lengthAdjust="spacingAndGlyphs">6300</text>
<rect x="627.2" y="337.6" width="1.7" height="3.2" fill="#555878"/>
<text x="631" y="340.7" font-size="5.2" textLength="10" lengthAdjust="spacingAndGlyphs">8000</text>
<text x="480.5" y="421.3" font-size="7.0" text-anchor="middle" textLength="160" lengthAdjust="spacingAndGlyphs" xml:space="preserve">f =8000 Hz,  Q =  3.44,  DI =   5.4 dB,  Angle(-6dB) =  40.6&#176;</text>
<text x="366" y="433.4" font-size="6.3">1/3 Okt</text>
</g>
<g id="panel2">
<g clip-path="url(#cp2)"><g filter="url(#jet)">
<rect x="30.5" y="476.4" width="258.7" height="161.5" fill="#595959"/>
<polygon fill="#8c8c8c" points="20,457.8 205,457.8 205,657.8 20,657.8"/>
<polygon fill="#737373" points="205,457.8 208,457.8 208,657.8 205,657.8"/>
<polygon fill="#404040" points="228.8,477.5 232.5,488.8 237.5,492.5 250,493.8 260,492.5 265,488.8 267.5,477.5"/>
<polygon fill="#404040" points="260,518.1 259.6,522.2 258.6,525.5 257.1,527.3 255.4,527.3 253.9,525.5 252.9,522.2 252.5,518.1 252.9,514.1 253.9,510.8 255.4,509 257.1,509 258.6,510.8 259.6,514.1"/>
<polygon fill="#404040" points="262.5,477.5 285,477.5 285,513.8 270,513.8 265,502.5"/>
<polygon fill="#262626" points="264.4,477.5 285,477.5 285,509.4 271.2,509.4 266.9,496.2"/>
<polygon fill="#0d0d0d" points="266.9,477.5 285,477.5 285,488.8 280.6,490 280,500.6 272.5,501.2 269.4,491.2"/>
<polygon fill="#404040" points="260,597 259.6,600.4 258.6,603.1 257.1,604.6 255.4,604.6 253.9,603.1 252.9,600.4 252.5,597 252.9,593.6 253.9,590.9 255.4,589.4 257.1,589.4 258.6,590.9 259.6,593.6"/>
<polygon fill="#404040" points="231.2,634.5 233.8,623.9 262.5,623.2 265,607 285,604.5 285,634.5"/>
<polygon fill="#262626" points="265.6,634.5 266.9,605.8 285,605.1 285,634.5"/>
<polygon fill="#0d0d0d" points="269.4,634.5 270.2,608.2 285,607.2 285,634.5"/>
<polygon fill="#737373" points="20,557.1 30,467.8 214,467.8 216.2,477.5 218.6,481.2 225,493.8 230,502.4 235.6,513.1 241.2,520.5 252.6,526.2 258.8,528.1 262.5,526.9 265,522.5 270,517.5 275,515 283.2,513.1 286.2,513.1 286.2,547.5 290,557.1 286.2,568.2 286.2,587 286.2,600.8 268.1,601.4 265,598.2 262.5,590.8 258.8,587 252.6,589.6 241.2,595.2 235.6,602 230,613.4 225,621.4 218.6,631.5 215,637 215,647.8 30,647.8"/>
<polygon fill="#8c8c8c" points="20,557.1 30,467.8 203,467.8 203.1,477.5 207.2,483.1 212.5,488.8 218.6,494.5 225,505.6 230,513.8 235.6,521.2 241.2,526.2 252.6,530.8 264,534.1 275.2,538.2 280,540.8 283.2,542.4 290,557.1 283.2,575.1 280,576.4 275.2,578.2 264,581.8 252.6,585.1 241.2,589.6 235.6,593.9 230,601 225,609.5 218.6,620.2 212.5,626.4 207.2,631.5 203.1,637 203,647.8 30,647.8"/>
<polygon fill="#a6a6a6" points="20,557.1 30,467.8 196,467.8 196.9,477.5 200,485.2 207.2,491.1 212.5,498.8 218.6,507 225,516.9 230,523.9 235.6,528.8 241.2,531.9 252.6,534.6 264,537.5 275.2,541.4 280,544.2 283.2,545.9 290,557.1 283.2,572 280,573.2 275.2,574.9 264,578.2 252.6,580.5 241.2,584 235.6,586.4 230,590.8 225,597.6 218.6,607.8 212.5,614.5 207.2,621.4 200,627.6 196.9,637 196,647.8 30,647.8"/>
<polygon fill="#bfbfbf" points="20,557.1 30,467.8 156,467.8 156.8,477.5 160.5,485 165.5,486.9 170.5,488.8 176.8,489.4 183,489.4 188,488.8 193,489.4 198,490.6 199.5,491.5 200,492.2 207.2,499 212.5,506 218.6,513.8 225,522.2 230,528.5 235.6,532 241.2,534.1 252.6,536.9 264,539.8 275.2,543.5 280,546 283.2,547.5 290,557.1 283.2,570 280,571.1 275.2,572.8 264,576.4 252.6,578.2 241.2,581.2 235.6,583 230,586.2 225,592 218.6,601 212.5,607.2 207.2,613.4 200,619.5 199.5,623.5 196.8,625.8 193,627.6 188,628.9 183,627.6 176.8,626.4 170.5,627.6 165.5,637 164,647.8 30,647.8"/>
<polygon fill="#d9d9d9" points="20,557.1 30,467.8 133,467.8 133.6,477.5 135.5,487.5 138,491.2 141.8,493.8 146.8,496.2 153,498.8 159.2,501.2 164.2,503.1 169.2,504.4 174.2,504.4 179.2,503.1 183,501.2 186.8,499.4 189.9,498.1 193,498.8 196.8,501.2 199.2,502.2 200,502.5 207.2,509.2 212.5,515 218.6,521.6 225,528.1 230,533 235.6,535.6 241.2,537.5 252.6,539.8 264,542 275.2,545.5 280,547.8 283.2,549.4 290,557.1 283.2,567.9 280,568.9 275.2,570.4 264,573.8 252.6,575.4 241.2,578.2 235.6,579.5 230,581.8 225,586.4 218.6,593 212.5,598.9 207.2,604.4 200,610.1 199.2,612 196.8,614.5 193,617 189.2,618.2 185.5,616.4 180.5,613.2 174.2,611.4 168,611.4 161.8,613.2 155.5,616.4 149.2,618.9 143,621.4 138,625.8 134.9,637 134,647.8 30,647.8"/>
<polygon fill="#f2f2f2" points="20,557.1 30,467.8 70,467.8 71,482.5 78.5,485.6 86,487.5 91,489.4 96,492.5 102.2,496.2 108.5,500 113.5,502.5 117.2,504.1 118,500 123,503.8 128,507.5 133,512.5 138,515 143,516.9 149.2,518.8 155.5,520.6 161.8,521.9 168,523.1 173,523.1 178,521.9 181.8,519.4 185.5,516.9 189.2,515 193,515 198,517.5 200,520.6 205,527.5 207.2,530.8 212.5,534.4 218.6,537.5 225,540.2 230,542 241.2,545.5 252.6,546.6 264,548.9 275.2,552.2 280,553.8 283.2,554.8 290,557.1 283.2,560.8 280,562 275.2,563.6 264,566.2 252.6,568.1 241.2,570.4 230,572.6 225,574.5 218.6,577.1 212.5,580.1 207.2,584 200,593.2 199,596.8 195.5,598.9 190.5,600.8 186.8,600.1 183,598.2 178,595.1 173,593.2 168,593 161.8,593.9 155.5,595.8 149.2,598.2 143,599.5 138,600.8 133,603.2 128,607 123,610.8 118,614.5 117.7,614.9 113.2,616.9 105.6,622 96.8,629.5 89.3,632.5 88,647.8 30,647.8"/>
</g>
<path d="M44 482.4V631.9M50.4 482.4V631.9M55.9 482.4V631.9M60.7 482.4V631.9M65 482.4V631.9M93.6 482.4V631.9M110.3 482.4V631.9M122.1 482.4V631.9M131.3 482.4V631.9M138.8 482.4V631.9M145.2 482.4V631.9M150.7 482.4V631.9M155.5 482.4V631.9M159.8 482.4V631.9M188.4 482.4V631.9M205.1 482.4V631.9M216.9 482.4V631.9M226.1 482.4V631.9M233.6 482.4V631.9M240 482.4V631.9M245.5 482.4V631.9M250.3 482.4V631.9M254.7 482.4V631.9M36.5 490.7H283.2M36.5 507.3H283.2M36.5 523.9H283.2M36.5 540.5H283.2M36.5 557.1H283.2M36.5 573.8H283.2M36.5 590.4H283.2M36.5 607H283.2M36.5 623.6H283.2" stroke="#acacac" stroke-opacity="0.68" stroke-width="0.8" fill="none"/>
</g>
<path d="M34 490.7H36.5M34 507.3H36.5M34 523.9H36.5M34 540.5H36.5M34 557.1H36.5M34 573.8H36.5M34 590.4H36.5M34 607H36.5M34 623.6H36.5" stroke="#555" stroke-width="0.6" fill="none"/>
<text x="160" y="473.2" font-size="7.3" text-anchor="middle" textLength="64.5" lengthAdjust="spacingAndGlyphs">Directivity sonogram</text>
<text x="21.2" y="476.5" font-size="6.6" textLength="10.6" lengthAdjust="spacingAndGlyphs">deg</text>
<text x="31.8" y="493" font-size="6.4" text-anchor="end">-80.0</text>
<text x="31.8" y="509.6" font-size="6.4" text-anchor="end">-60.0</text>
<text x="31.8" y="526.2" font-size="6.4" text-anchor="end">-40.0</text>
<text x="31.8" y="542.8" font-size="6.4" text-anchor="end">-20.0</text>
<text x="31.8" y="559.4" font-size="6.4" text-anchor="end">0.0</text>
<text x="31.8" y="576.1" font-size="6.4" text-anchor="end">20.0</text>
<text x="31.8" y="592.7" font-size="6.4" text-anchor="end">40.0</text>
<text x="31.8" y="609.3" font-size="6.4" text-anchor="end">60.0</text>
<text x="31.8" y="625.9" font-size="6.4" text-anchor="end">80.0</text>
<text x="36.5" y="642.6" font-size="6.6" text-anchor="middle">50</text>
<text x="65" y="642.6" font-size="6.6" text-anchor="middle">100</text>
<text x="93.6" y="642.6" font-size="6.6" text-anchor="middle">200</text>
<text x="131.3" y="642.6" font-size="6.6" text-anchor="middle">500</text>
<text x="159.8" y="642.6" font-size="6.6" text-anchor="middle">1k</text>
<text x="188.4" y="642.6" font-size="6.6" text-anchor="middle">2k</text>
<text x="226.1" y="642.6" font-size="6.6" text-anchor="middle">5k</text>
<text x="254.7" y="642.6" font-size="6.6" text-anchor="middle">10k</text>
<text x="283.2" y="642.6" font-size="6.6" text-anchor="middle">20k</text>
<text x="282.8" y="650.7" font-size="6.6" text-anchor="end" textLength="45.5" lengthAdjust="spacingAndGlyphs">Frequency (Hz)</text>
<text x="287.6" y="488.9" font-size="7.2" text-anchor="middle">A</text>
<text x="287.6" y="496.5" font-size="7.2" text-anchor="middle">R</text>
<text x="287.6" y="504.1" font-size="7.2" text-anchor="middle">T</text>
<text x="287.6" y="511.7" font-size="7.2" text-anchor="middle">A</text>
<rect x="292.5" y="482.4" width="7.4" height="15.2" fill="rgb(133,0,0)"/>
<text x="303.6" y="484.7" font-size="6.6">0 dB</text>
<rect x="292.5" y="497.4" width="7.4" height="15.2" fill="rgb(226,0,0)"/>
<text x="303.6" y="499.7" font-size="6.6">-2.5</text>
<rect x="292.5" y="512.3" width="7.4" height="15.2" fill="rgb(255,85,0)"/>
<text x="303.6" y="514.6" font-size="6.6">-5.0</text>
<rect x="292.5" y="527.3" width="7.4" height="15.2" fill="rgb(255,172,0)"/>
<text x="303.6" y="529.6" font-size="6.6">-7.5</text>
<rect x="292.5" y="542.2" width="7.4" height="15.2" fill="rgb(240,245,25)"/>
<text x="303.6" y="544.5" font-size="6.6">-10.0</text>
<rect x="292.5" y="557.2" width="7.4" height="15.2" fill="rgb(145,245,105)"/>
<text x="303.6" y="559.5" font-size="6.6">-12.5</text>
<rect x="292.5" y="572.2" width="7.4" height="15.2" fill="rgb(40,232,222)"/>
<text x="303.6" y="574.5" font-size="6.6">-15.0</text>
<rect x="292.5" y="587.1" width="7.4" height="15.2" fill="rgb(0,150,245)"/>
<text x="303.6" y="589.4" font-size="6.6">-17.5</text>
<rect x="292.5" y="602.1" width="7.4" height="15.2" fill="rgb(0,55,238)"/>
<text x="303.6" y="604.4" font-size="6.6">-20.0</text>
<rect x="292.5" y="617" width="7.4" height="15.2" fill="rgb(0,0,218)"/>
<text x="303.6" y="619.3" font-size="6.6">-22.5</text>
<text x="303.6" y="634.3" font-size="6.6">-25.0</text>
<text x="36.2" y="663.2" font-size="6.3">1/1 Okt</text>
<text x="8.6" y="681.9" font-size="15.6" font-weight="bold" textLength="55.5" lengthAdjust="spacingAndGlyphs">1/1 Okt</text>
<g clip-path="url(#pp2)">
<path d="M360.5 635.2A121.2 121.4 0 0 1 602.9 635.2M385.2 635.2A96.5 97.1 0 0 1 578.2 635.2M410 635.2A71.7 72.8 0 0 1 553.4 635.2M434.7 635.2A47 48.5 0 0 1 528.7 635.2M459.5 635.2A22.2 24.2 0 0 1 503.9 635.2M471.9 633.5L350.1 612M472.3 631.8L356.2 589.5M474 628.8L379.4 549.3M475.3 627.5L395.8 532.9M478.3 625.8L436 509.7M480 625.4L458.5 503.6M483.4 625.4L504.9 503.6M485.1 625.8L527.4 509.7M488.1 627.5L567.6 532.9M489.4 628.8L584 549.3M491.1 631.8L607.2 589.5M491.5 633.5L613.3 612" stroke="#9a9aa8" stroke-width="0.6" stroke-dasharray="1.6 2.2" fill="none"/>
<path d="M348.1 635.2A133.6 133.6 0 0 1 615.3 635.2M372.9 635.2A108.8 109.3 0 0 1 590.5 635.2M397.6 635.2A84.1 85 0 0 1 565.8 635.2M422.4 635.2A59.3 60.7 0 0 1 541 635.2M447.1 635.2A34.6 36.4 0 0 1 516.3 635.2M471.7 635.2A10 11 0 0 1 491.7 635.2M473 630.2L366 568.4M476.7 626.5L414.9 519.5M481.7 625.2L481.7 501.6M486.7 626.5L548.5 519.5M490.4 630.2L597.4 568.4M346.1 635.2H617.3" stroke="#8c8c8c" stroke-width="0.7" fill="none"/>
<path d="M360.5 635.2C360.4 634.1 360 630.9 359.9 628.8C359.8 626.7 359.9 624.5 359.9 622.4C359.9 620.2 359.8 618.1 359.9 615.9C360.1 613.8 360.4 611.6 360.7 609.5C360.9 607.3 361.2 605.2 361.6 603C361.9 600.9 362.4 598.7 362.8 596.6C363.3 594.4 363.9 592.3 364.4 590.2C365 588 365.5 585.9 366.2 583.8C366.9 581.7 367.7 579.6 368.5 577.5C369.3 575.4 370 573.3 370.9 571.3C371.8 569.2 372.9 567.2 373.9 565.2C374.9 563.1 375.9 561.1 377 559.1C378.1 557.1 379.2 555.1 380.5 553.2C381.7 551.3 383 549.4 384.4 547.6C385.7 545.7 387.1 543.9 388.7 542.2C390.2 540.4 391.8 538.8 393.5 537.2C395.1 535.6 396.7 533.9 398.5 532.4C400.2 530.9 402 529.4 403.8 528C405.6 526.5 407.4 525.1 409.3 523.7C411.2 522.4 413.2 521.1 415.1 519.9C417.1 518.7 419.2 517.6 421.2 516.5C423.3 515.4 425.4 514.4 427.5 513.4C429.6 512.5 431.8 511.6 433.9 510.8C436.1 509.9 438.3 509.1 440.5 508.3C442.7 507.6 444.9 507 447.2 506.4C449.4 505.7 451.7 505.2 454 504.7C456.2 504.2 458.5 503.7 460.8 503.4C463.1 503 465.4 502.7 467.7 502.4C470.1 502.2 472.4 502 474.7 501.8C477 501.7 479.4 501.6 481.7 501.6C484 501.6 486.4 501.7 488.7 501.8C491 502 493.3 502.2 495.7 502.4C498 502.7 500.3 503 502.6 503.4C504.9 503.7 507.2 504.2 509.4 504.7C511.7 505.2 514 505.7 516.2 506.3C518.5 507 520.7 507.6 522.9 508.4C525.1 509.1 527.3 509.9 529.5 510.8C531.6 511.6 533.8 512.5 535.9 513.4C538 514.4 540.1 515.4 542.2 516.5C544.2 517.6 546.3 518.7 548.3 519.9C550.3 521.1 552.2 522.4 554.1 523.8C556 525.1 557.8 526.5 559.6 528C561.4 529.4 563.2 530.9 564.9 532.4C566.7 534 568.3 535.6 569.9 537.2C571.6 538.8 573.2 540.4 574.8 542.1C576.3 543.9 577.7 545.7 579 547.6C580.4 549.4 581.7 551.3 583 553.2C584.2 555.1 585.3 557.1 586.4 559.1C587.5 561.1 588.6 563.1 589.6 565.2C590.6 567.2 591.6 569.2 592.4 571.3C593.3 573.3 594.1 575.4 594.9 577.5C595.7 579.6 596.5 581.7 597.2 583.8C597.9 585.9 598.4 588.1 598.9 590.2C599.5 592.3 600.1 594.4 600.6 596.6C601.1 598.7 601.4 600.9 601.8 603C602.2 605.2 602.5 607.3 602.8 609.5C603 611.6 603.3 613.8 603.4 615.9C603.5 618.1 603.5 620.2 603.5 622.4C603.5 624.5 603.7 626.7 603.5 628.8C603.4 630.9 603 634.1 602.9 635.2" fill="none" stroke="#e03030" stroke-width="1.4" stroke-linejoin="round"/>
<path d="M367.9 635.2C367.8 634.2 367.5 631.2 367.4 629.2C367.4 627.2 367.5 625.2 367.6 623.2C367.6 621.2 367.5 619.2 367.7 617.1C367.8 615.1 368.1 613.1 368.4 611.1C368.6 609.1 368.9 607.1 369.2 605.1C369.5 603 369.9 601 370.4 599C370.8 597 371.3 595 371.8 593C372.3 591 372.8 589 373.4 587C374 585 374.8 583.1 375.5 581.1C376.2 579.1 376.8 577.1 377.6 575.1C378.3 573.1 379 571.1 379.8 569C380.5 567 381.2 564.9 382.1 562.8C382.9 560.8 383.8 558.7 384.8 556.7C385.8 554.7 386.8 552.7 388 550.8C389.1 548.9 390.3 546.9 391.6 545.1C392.9 543.3 394.4 541.6 395.9 539.9C397.3 538.1 398.8 536.4 400.3 534.7C401.9 533.1 403.6 531.5 405.2 529.9C406.9 528.4 408.6 526.8 410.3 525.3C412.1 523.8 413.9 522.4 415.8 521.1C417.7 519.8 419.7 518.6 421.7 517.5C423.7 516.4 425.8 515.3 427.9 514.3C430 513.3 432.1 512.4 434.2 511.6C436.4 510.7 438.5 509.8 440.7 509.1C442.9 508.3 445.1 507.6 447.3 507C449.6 506.3 451.8 505.7 454.1 505.2C456.3 504.6 458.6 504.1 460.9 503.7C463.2 503.3 465.5 503 467.8 502.7C470.1 502.4 472.4 502.1 474.7 501.9C477 501.8 479.4 501.7 481.7 501.7C484 501.7 486.4 501.8 488.7 501.9C491 502.1 493.3 502.4 495.6 502.7C497.9 503 500.2 503.3 502.5 503.7C504.8 504.1 507.1 504.6 509.3 505.2C511.6 505.7 513.8 506.3 516.1 506.9C518.3 507.6 520.5 508.3 522.7 509.1C524.9 509.8 527 510.7 529.2 511.6C531.3 512.4 533.4 513.3 535.5 514.3C537.6 515.3 539.7 516.4 541.7 517.5C543.7 518.6 545.7 519.8 547.6 521.1C549.5 522.4 551.3 523.8 553.1 525.3C554.8 526.8 556.5 528.3 558.2 529.9C559.8 531.5 561.5 533.1 563 534.7C564.6 536.4 566.1 538.1 567.5 539.9C569 541.6 570.5 543.3 571.8 545.1C573.1 546.9 574.3 548.9 575.4 550.8C576.6 552.7 577.7 554.7 578.6 556.7C579.6 558.7 580.5 560.8 581.3 562.8C582.1 564.9 582.9 567 583.6 569C584.4 571 585.1 573.1 585.8 575.1C586.5 577.1 587.2 579.1 587.9 581.1C588.6 583.1 589.4 585 590 587C590.6 589 591 591 591.6 593C592.1 595 592.6 597 593.1 599C593.5 601 593.8 603.1 594.2 605.1C594.5 607.1 594.8 609.1 595.1 611.1C595.3 613.1 595.6 615.1 595.7 617.1C595.8 619.2 595.8 621.2 595.8 623.2C595.9 625.2 596 627.2 596 629.2C595.9 631.2 595.5 634.2 595.4 635.2" fill="none" stroke="#2f86d8" stroke-width="1.5" stroke-linejoin="round"/>
<path d="M388.9 635.2C388.4 634.4 386.9 631.9 385.9 630.2C385 628.5 384.1 626.7 383.3 624.9C382.5 623 381.7 621.2 381.1 619.3C380.5 617.4 380.1 615.5 379.7 613.5C379.3 611.6 378.9 609.6 378.7 607.6C378.5 605.6 378.7 603.7 378.7 601.7C378.8 599.8 378.9 597.8 379.1 595.8C379.3 593.9 379.7 591.9 380 589.9C380.4 588 380.8 586 381.3 584C381.7 582 382.1 580 382.6 578C383.2 576 383.8 574 384.4 572C385 570 385.5 567.8 386.2 565.8C386.9 563.8 387.7 561.8 388.6 559.8C389.4 557.8 390.2 555.7 391.2 553.7C392.2 551.7 393.2 549.8 394.4 547.9C395.5 545.9 396.7 544.1 398 542.3C399.3 540.4 400.7 538.6 402.1 536.9C403.5 535.1 405 533.5 406.5 531.8C408.1 530.1 409.6 528.3 411.3 526.7C412.9 525.1 414.7 523.6 416.5 522.3C418.3 520.9 420.2 519.6 422.2 518.5C424.2 517.3 426.2 516.3 428.3 515.3C430.4 514.2 432.4 513.3 434.5 512.4C436.7 511.4 438.8 510.6 440.9 509.8C443.1 509 445.3 508.2 447.5 507.6C449.7 506.9 451.9 506.2 454.2 505.6C456.4 505.1 458.7 504.6 460.9 504.1C463.2 503.7 465.5 503.2 467.8 502.9C470.1 502.6 472.4 502.3 474.7 502.1C477 501.9 479.4 501.7 481.7 501.7C484 501.7 486.4 501.9 488.7 502.1C491 502.3 493.3 502.6 495.6 502.9C497.9 503.2 500.2 503.6 502.5 504.1C504.7 504.5 507 505.1 509.2 505.7C511.5 506.2 513.7 506.8 515.9 507.5C518.1 508.2 520.3 509 522.4 509.8C524.6 510.6 526.7 511.5 528.9 512.4C531 513.3 533.1 514.2 535.1 515.2C537.2 516.3 539.2 517.3 541.2 518.5C543.1 519.7 545.1 520.8 546.9 522.2C548.8 523.6 550.4 525.2 552.1 526.8C553.8 528.4 555.4 530 556.9 531.7C558.4 533.4 559.9 535.2 561.3 536.9C562.7 538.7 564.1 540.4 565.4 542.3C566.7 544.1 567.9 545.9 569.1 547.8C570.2 549.7 571.2 551.8 572.2 553.8C573.1 555.7 574.1 557.7 574.9 559.7C575.7 561.7 576.4 563.8 577.1 565.9C577.8 567.9 578.5 569.9 579.1 571.9C579.7 574 580.2 576 580.7 578C581.2 580.1 581.7 582 582.2 584C582.6 586 583.1 587.9 583.4 589.9C583.8 591.9 584 593.9 584.2 595.9C584.4 597.8 584.7 599.7 584.8 601.7C584.9 603.7 584.7 605.7 584.6 607.6C584.4 609.6 584.2 611.5 583.9 613.5C583.5 615.4 582.9 617.4 582.2 619.3C581.6 621.2 580.9 623 580.1 624.9C579.3 626.7 578.5 628.5 577.5 630.2C576.6 631.9 574.9 634.4 574.4 635.2" fill="none" stroke="#4a1540" stroke-width="1.3" stroke-linejoin="round"/>
<path d="M384.9 635.2C384.5 634.3 383.1 631.8 382.3 630C381.4 628.2 380.7 626.4 380 624.5C379.3 622.6 378.5 620.7 378 618.8C377.5 616.8 377.2 614.9 376.9 612.9C376.6 610.9 376.2 608.9 376.2 606.9C376.1 604.9 376.3 603 376.4 601C376.5 599 376.7 597 377 595C377.2 593 377.6 591 378 589C378.4 587.1 378.9 585.1 379.4 583.1C379.9 581.1 380.4 579.1 381 577.1C381.6 575.1 382.3 573.1 382.9 571.1C383.6 569 384.2 566.9 385 564.9C385.7 562.9 386.6 560.9 387.5 558.9C388.4 556.9 389.3 554.9 390.3 552.9C391.4 551 392.5 549 393.7 547.2C394.8 545.3 396.1 543.5 397.5 541.7C398.8 539.9 400.2 538.1 401.6 536.3C403.1 534.6 404.7 533 406.2 531.3C407.8 529.7 409.3 527.9 411 526.4C412.7 524.8 414.5 523.4 416.3 522C418.2 520.6 420.1 519.4 422.1 518.2C424.1 517.1 426.1 516.1 428.2 515.1C430.3 514 432.4 513.1 434.5 512.2C436.6 511.3 438.7 510.4 440.9 509.6C443.1 508.8 445.3 508.1 447.5 507.4C449.7 506.7 451.9 506.1 454.1 505.5C456.4 505 458.6 504.5 460.9 504C463.2 503.6 465.5 503.2 467.8 502.8C470.1 502.5 472.4 502.2 474.7 502C477 501.9 479.4 501.7 481.7 501.7C484 501.7 486.4 501.9 488.7 502C491 502.2 493.3 502.5 495.6 502.9C497.9 503.2 500.2 503.6 502.5 504C504.8 504.5 507 505 509.3 505.5C511.5 506.1 513.7 506.7 515.9 507.4C518.2 508.1 520.3 508.8 522.5 509.6C524.7 510.4 526.8 511.3 528.9 512.2C531 513.1 533.1 514 535.2 515C537.3 516.1 539.3 517.1 541.3 518.3C543.3 519.4 545.2 520.6 547.1 521.9C548.9 523.3 550.6 524.9 552.3 526.4C554 528 555.6 529.6 557.2 531.3C558.8 532.9 560.3 534.6 561.7 536.4C563.2 538.1 564.6 539.9 565.9 541.6C567.3 543.4 568.6 545.2 569.8 547.1C570.9 549 572 551 573 553C574 554.9 575.1 556.9 575.9 558.9C576.8 560.9 577.6 563 578.3 565C579.1 567 579.9 569 580.5 571C581.2 573 581.7 575.1 582.3 577.1C582.9 579.1 583.5 581.1 584 583.1C584.5 585.1 585 587 585.4 589C585.8 591 586.1 593 586.3 595C586.6 597 587 599 587.1 600.9C587.3 602.9 587.2 605 587.1 607C587 609 586.9 610.9 586.6 612.9C586.3 614.9 585.8 616.9 585.3 618.8C584.8 620.7 584.1 622.6 583.5 624.5C582.8 626.4 582 628.2 581.2 630C580.3 631.8 578.8 634.3 578.3 635.2" fill="none" stroke="#5b2352" stroke-width="1.2" stroke-linejoin="round"/>
<path d="M422.2 635.1C420.8 632.7 416.2 625.5 413.8 620.6C411.3 615.8 408.9 610.4 407.3 605.8C405.7 601.1 404.8 597.2 404.1 593C403.5 588.7 403.2 584.4 403.4 580.1C403.7 575.9 404.7 571.3 405.6 567.4C406.6 563.4 407.7 559.7 409.1 556.6C410.4 553.6 411.6 552.5 413.8 549.1C415.9 545.8 419.1 540.6 422.2 536.4C425.4 532.1 429 527.5 432.9 523.5C436.9 519.6 441.1 515.9 445.8 512.9C450.4 509.8 454.6 507.2 460.6 505.4C466.7 503.5 475 501.8 482.1 501.8C489.1 501.8 496.8 503.5 502.8 505.4C508.7 507.2 513 509.8 517.7 512.9C522.3 515.9 526.5 519.6 530.5 523.5C534.4 527.5 538 532.1 541.2 536.4C544.4 540.6 547.5 545.8 549.7 549.1C551.9 552.5 553 553.6 554.3 556.6C555.7 559.7 556.8 563.4 557.8 567.4C558.7 571.3 559.7 575.9 560 580.1C560.2 584.4 559.9 588.7 559.2 593C558.6 597.2 557.6 601.1 556 605.8C554.4 610.4 552.1 615.8 549.7 620.6C547.2 625.5 542.6 632.7 541.2 635.1" fill="none" stroke="#27b060" stroke-width="1.4" stroke-linejoin="round"/>
<path d="M430.8 635.1C429.8 633.5 426.4 628.8 424.4 625C422.5 621.1 420.6 616.4 419.1 612.1C417.6 607.9 416.1 603.6 415.4 599.4C414.8 595.1 414.6 590.8 414.8 586.5C415.1 582.3 416.1 577.7 416.9 573.8C417.8 569.8 418.9 566.4 420.1 563C421.4 559.7 422.7 557.4 424.4 553.5C426.2 549.5 428.4 544.2 430.8 539.5C433.3 534.9 436.1 529.9 439.3 525.6C442.5 521.4 446.1 517.2 450.1 514C454 510.7 457.5 508.1 462.8 506.1C468.2 504 475.8 501.8 482.1 501.8C488.3 501.8 495.3 504 500.6 506.1C505.8 508.1 509.4 510.7 513.3 514C517.3 517.2 520.8 521.4 524 525.6C527.2 529.9 530.1 534.9 532.5 539.5C535 544.2 537.2 549.5 539 553.5C540.7 557.4 542 559.7 543.2 563C544.5 566.4 545.6 569.8 546.5 573.8C547.3 577.7 548.3 582.3 548.5 586.5C548.8 590.8 548.7 595.1 548 599.4C547.2 603.6 545.8 607.9 544.3 612.1C542.8 616.4 540.9 621.1 539 625C537 628.8 533.6 633.5 532.5 635.1" fill="none" stroke="#1e5a55" stroke-width="1.3" stroke-linejoin="round"/>
<path d="M445.8 635.1C444.3 634.3 439.7 632.3 437.2 630.2C434.8 628.2 432.4 625.5 430.8 622.9C429.2 620.2 428.4 616.9 427.6 614.2C426.9 611.6 425.9 609.6 426.6 606.8C427.2 603.9 430.6 600.2 431.8 597.1C433.1 594.1 433.7 591.8 434.1 588.6C434.4 585.5 434 581.4 434.1 578C434.1 574.5 434.1 571.3 434.2 568C434.4 564.6 434.1 561.5 434.6 557.6C435.1 553.8 436.1 548.9 437.2 544.9C438.4 540.8 439.7 537.1 441.4 533.1C443.2 529.2 445.3 524.9 447.8 521.4C450.3 517.8 453.2 514.4 456.4 511.8C459.6 509.1 462.8 507 467.1 505.4C471.3 503.7 477.2 501.8 482.1 501.8C486.9 501.8 492.2 503.7 496.3 505.4C500.5 507 503.8 509.1 506.9 511.8C510.1 514.4 513 517.8 515.5 521.4C518 524.9 520.2 529.2 522 533.1C523.7 537.1 525 540.8 526.2 544.9C527.3 548.9 528.2 553.8 528.8 557.6C529.2 561.5 529.1 564.6 529.2 568C529.3 571.3 529.3 574.5 529.3 578C529.4 581.4 529 585.5 529.3 588.6C529.7 591.8 530.3 594.1 531.5 597.1C532.8 600.2 536.1 603.9 536.8 606.8C537.5 609.6 536.5 611.6 535.8 614.2C535 616.9 534.1 620.2 532.5 622.9C530.9 625.5 528.6 628.2 526.2 630.2C523.7 632.3 519.1 634.3 517.7 635.1" fill="none" stroke="#d82a2a" stroke-width="1.5" stroke-linejoin="round"/>
<path d="M448.9 635.1C447.3 634.3 442 632.3 439.3 630.2C436.7 628.2 434.6 625.5 432.9 622.9C431.2 620.2 429.9 616.9 429.1 614.2C428.4 611.6 427.3 609.2 428.6 606.8C430 604.3 435.5 601.1 437.2 599.4C439 597.6 438.9 599 439.3 596.1C439.8 593.3 439.8 587 439.8 582.2C439.8 577.5 439.5 571.5 439.3 567.4C439.2 563.2 438.8 561.4 438.9 557.6C439.1 553.9 439.6 548.9 440.4 544.9C441.3 540.8 442.4 537.1 444.1 533.1C445.7 529.2 447.7 524.9 450.1 521.4C452.4 517.8 455.1 514.4 458.1 511.8C461.2 509.1 464.2 507 468.1 505.4C472.1 503.7 477.5 501.8 482.1 501.8C486.6 501.8 491.4 503.7 495.2 505.4C499.1 507 502.2 509.1 505.2 511.8C508.3 514.4 511 517.8 513.3 521.4C515.7 524.9 517.7 529.2 519.3 533.1C520.9 537.1 522.1 540.8 523 544.9C523.8 548.9 524.3 553.9 524.5 557.6C524.6 561.4 524.2 563.2 524 567.4C523.9 571.5 523.7 577.5 523.7 582.2C523.7 587 523.6 593.3 524 596.1C524.5 599 524.4 597.6 526.2 599.4C527.9 601.1 533.4 604.3 534.8 606.8C536.1 609.2 535 611.6 534.2 614.2C533.5 616.9 532.2 620.2 530.5 622.9C528.8 625.5 526.7 628.2 524 630.2C521.4 632.3 516.1 634.3 514.5 635.1" fill="none" stroke="#555878" stroke-width="1.4" stroke-linejoin="round"/>
</g>
<text x="481.8" y="486.1" font-size="7.3" text-anchor="middle" textLength="53.3" lengthAdjust="spacingAndGlyphs">Directivity pattern</text>
<text x="481.6" y="499.5" font-size="4.8" text-anchor="middle" textLength="16" lengthAdjust="spacingAndGlyphs">0&#176;/ 0 dB</text>
<text x="481.3" y="524.3" font-size="4.8" text-anchor="middle">-5</text>
<text x="481.3" y="548.6" font-size="4.8" text-anchor="middle">-10</text>
<text x="481.3" y="572.9" font-size="4.8" text-anchor="middle">-15</text>
<text x="481.3" y="597.2" font-size="4.8" text-anchor="middle">-20</text>
<text x="481.3" y="621.5" font-size="4.8" text-anchor="middle">-25</text>
<text x="411" y="517.9" font-size="4.8" text-anchor="middle">-30&#176;</text>
<text x="552" y="517.9" font-size="4.8" text-anchor="middle">30&#176;</text>
<text x="360" y="568.2" font-size="4.8" text-anchor="middle">-60&#176;</text>
<text x="603.4" y="568.2" font-size="4.8" text-anchor="middle">60&#176;</text>
<text x="343" y="636.5" font-size="4.8" text-anchor="middle">-90&#176;</text>
<text x="621.7" y="636.9" font-size="4.8" text-anchor="middle">90&#176;</text>
<text x="620.7" y="608.1" font-size="4.4" text-anchor="middle">A</text>
<text x="620.7" y="613.3" font-size="4.4" text-anchor="middle">R</text>
<text x="620.7" y="618.5" font-size="4.4" text-anchor="middle">T</text>
<text x="620.7" y="623.7" font-size="4.4" text-anchor="middle">A</text>
<text x="627" y="505.9" font-size="5.2" textLength="11" lengthAdjust="spacingAndGlyphs">F (Hz)</text>
<rect x="627.2" y="510.2" width="1.7" height="3.2" fill="#111"/>
<text x="631" y="512.8" font-size="5.2" textLength="10" lengthAdjust="spacingAndGlyphs">8000</text>
<text x="627" y="521.2" font-size="5.2" textLength="14.5" lengthAdjust="spacingAndGlyphs">Overlay</text>
<rect x="627.2" y="525.6" width="1.7" height="3.2" fill="#e03030"/>
<text x="631" y="528.7" font-size="5.2" textLength="7.6" lengthAdjust="spacingAndGlyphs">250</text>
<rect x="627.2" y="531.4" width="1.7" height="3.2" fill="#2f86d8"/>
<text x="631" y="534.5" font-size="5.2" textLength="7.6" lengthAdjust="spacingAndGlyphs">500</text>
<rect x="627.2" y="537.3" width="1.7" height="3.2" fill="#4a1540"/>
<text x="631" y="540.4" font-size="5.2" textLength="10" lengthAdjust="spacingAndGlyphs">1000</text>
<rect x="627.2" y="543.1" width="1.7" height="3.2" fill="#5b2352"/>
<text x="631" y="546.2" font-size="5.2" textLength="10" lengthAdjust="spacingAndGlyphs">2000</text>
<rect x="627.2" y="548.9" width="1.7" height="3.2" fill="#27b060"/>
<text x="631" y="552" font-size="5.2" textLength="10" lengthAdjust="spacingAndGlyphs">4000</text>
<rect x="627.2" y="554.7" width="1.7" height="3.2" fill="#1e5a55"/>
<text x="631" y="557.8" font-size="5.2" textLength="10" lengthAdjust="spacingAndGlyphs">5000</text>
<rect x="627.2" y="560.6" width="1.7" height="3.2" fill="#d82a2a"/>
<text x="631" y="563.7" font-size="5.2" textLength="10" lengthAdjust="spacingAndGlyphs">6300</text>
<rect x="627.2" y="566.4" width="1.7" height="3.2" fill="#555878"/>
<text x="631" y="569.5" font-size="5.2" textLength="10" lengthAdjust="spacingAndGlyphs">8000</text>
<text x="480.5" y="650.1" font-size="7.0" text-anchor="middle" textLength="160" lengthAdjust="spacingAndGlyphs" xml:space="preserve">f =8000 Hz,  Q =  3.30,  DI =   5.2 dB,  Angle(-6dB) =  43.9&#176;</text>
<text x="366" y="662.2" font-size="6.3">1/1 Oct</text>
</g>
</svg></body></html>
